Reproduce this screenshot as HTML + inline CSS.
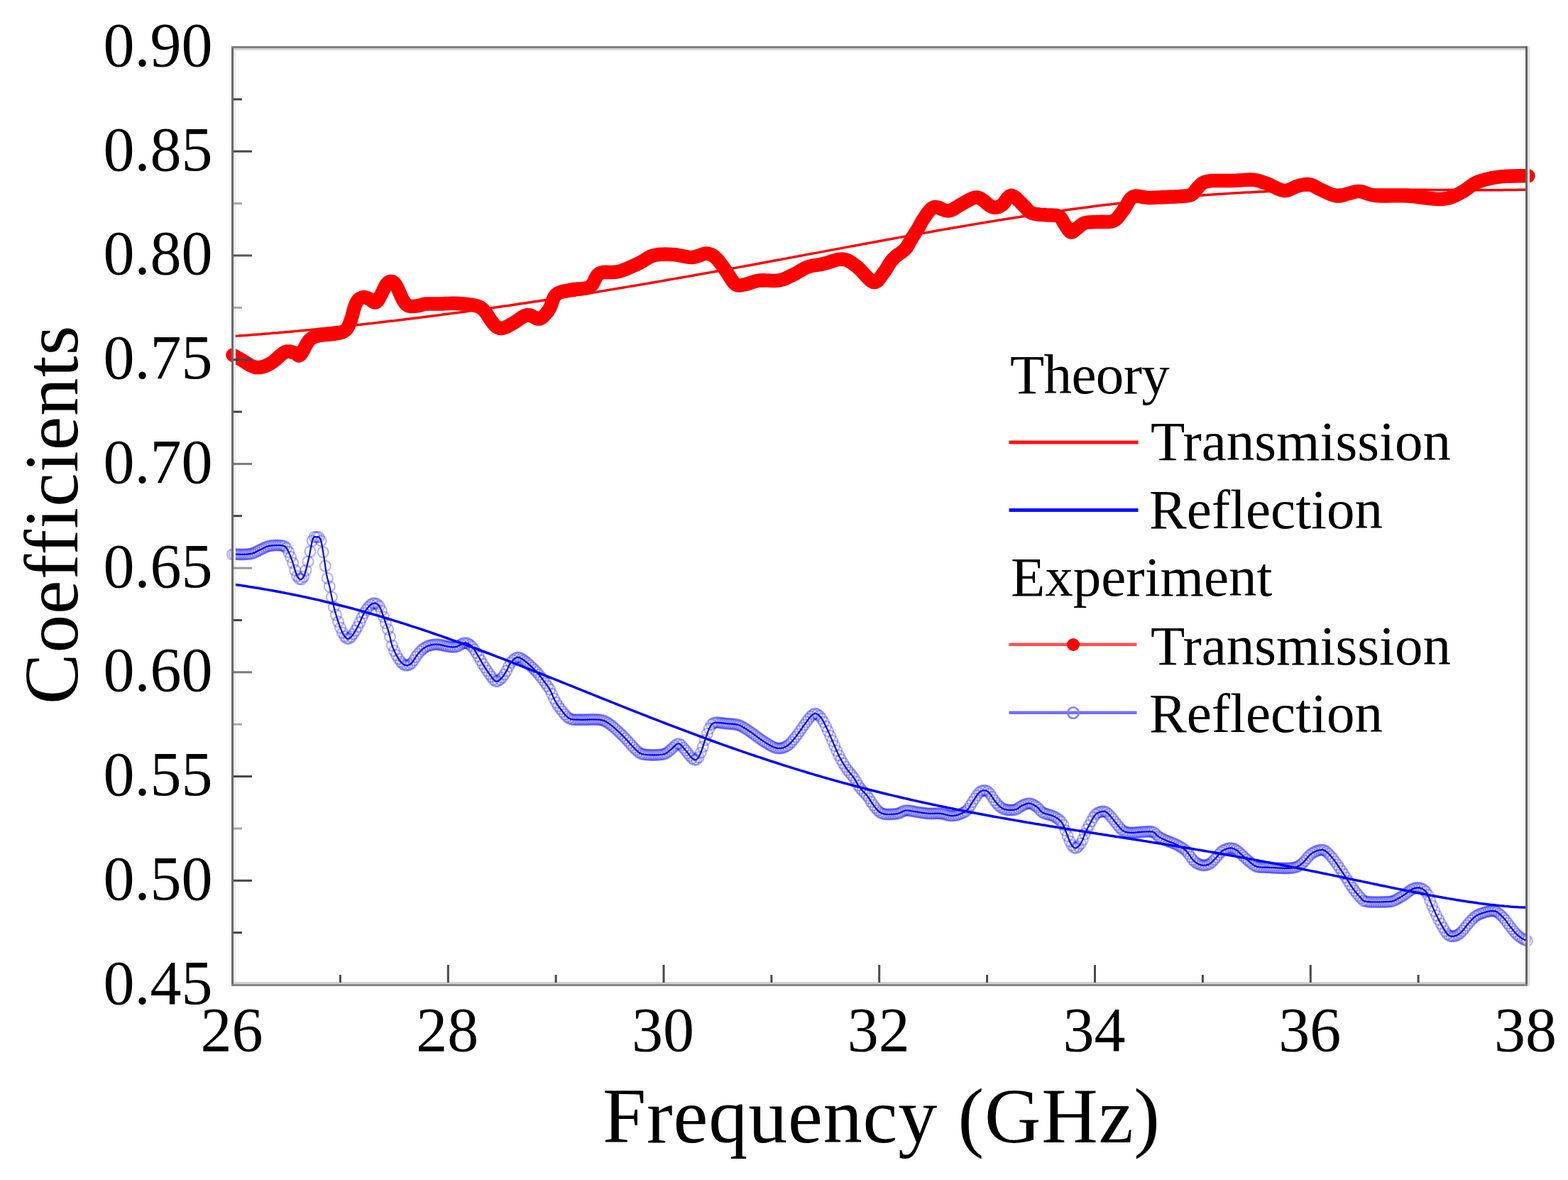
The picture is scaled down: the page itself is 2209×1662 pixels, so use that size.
<!DOCTYPE html><html><head><meta charset="utf-8"><title>Coefficients vs Frequency</title><style>html,body{margin:0;padding:0;background:#fff;}svg{display:block;}</style></head><body><svg width="2209" height="1662" viewBox="0 0 2209 1662">
<rect width="2209" height="1662" fill="#fff"/>
<g fill="none" stroke="#0000ff" stroke-opacity="0.30" stroke-width="2.2"><circle cx="327.5" cy="780.7" r="7.5"/><circle cx="330.5" cy="780.7" r="7.5"/><circle cx="333.6" cy="780.7" r="7.5"/><circle cx="336.6" cy="780.8" r="7.5"/><circle cx="339.7" cy="780.8" r="7.5"/><circle cx="342.7" cy="780.8" r="7.5"/><circle cx="345.7" cy="780.7" r="7.5"/><circle cx="348.8" cy="780.5" r="7.5"/><circle cx="351.8" cy="780.3" r="7.5"/><circle cx="354.9" cy="779.7" r="7.5"/><circle cx="357.9" cy="778.7" r="7.5"/><circle cx="360.9" cy="777.2" r="7.5"/><circle cx="364.0" cy="775.6" r="7.5"/><circle cx="367.0" cy="774.1" r="7.5"/><circle cx="370.1" cy="772.6" r="7.5"/><circle cx="373.1" cy="771.1" r="7.5"/><circle cx="376.1" cy="769.8" r="7.5"/><circle cx="379.2" cy="769.0" r="7.5"/><circle cx="382.2" cy="768.5" r="7.5"/><circle cx="385.3" cy="768.2" r="7.5"/><circle cx="388.3" cy="768.0" r="7.5"/><circle cx="391.3" cy="768.0" r="7.5"/><circle cx="394.4" cy="768.1" r="7.5"/><circle cx="397.4" cy="768.5" r="7.5"/><circle cx="400.5" cy="769.2" r="7.5"/><circle cx="403.5" cy="771.6" r="7.5"/><circle cx="406.5" cy="777.4" r="7.5"/><circle cx="409.6" cy="784.5" r="7.5"/><circle cx="412.6" cy="792.9" r="7.5"/><circle cx="415.7" cy="803.2" r="7.5"/><circle cx="418.7" cy="811.3" r="7.5"/><circle cx="421.7" cy="815.3" r="7.5"/><circle cx="424.8" cy="815.8" r="7.5"/><circle cx="427.8" cy="812.3" r="7.5"/><circle cx="430.9" cy="803.3" r="7.5"/><circle cx="433.9" cy="791.1" r="7.5"/><circle cx="436.9" cy="776.9" r="7.5"/><circle cx="440.0" cy="761.8" r="7.5"/><circle cx="443.0" cy="756.3" r="7.5"/><circle cx="446.1" cy="756.3" r="7.5"/><circle cx="449.1" cy="756.5" r="7.5"/><circle cx="452.1" cy="761.7" r="7.5"/><circle cx="455.2" cy="777.6" r="7.5"/><circle cx="458.2" cy="797.2" r="7.5"/><circle cx="461.3" cy="814.4" r="7.5"/><circle cx="464.3" cy="826.1" r="7.5"/><circle cx="467.3" cy="841.0" r="7.5"/><circle cx="470.4" cy="854.9" r="7.5"/><circle cx="473.4" cy="866.0" r="7.5"/><circle cx="476.5" cy="875.7" r="7.5"/><circle cx="479.5" cy="884.1" r="7.5"/><circle cx="482.5" cy="891.2" r="7.5"/><circle cx="485.6" cy="896.3" r="7.5"/><circle cx="488.6" cy="899.3" r="7.5"/><circle cx="491.7" cy="899.4" r="7.5"/><circle cx="494.7" cy="896.9" r="7.5"/><circle cx="497.7" cy="893.0" r="7.5"/><circle cx="500.8" cy="888.2" r="7.5"/><circle cx="503.8" cy="882.8" r="7.5"/><circle cx="506.9" cy="876.7" r="7.5"/><circle cx="509.9" cy="869.9" r="7.5"/><circle cx="512.9" cy="863.7" r="7.5"/><circle cx="516.0" cy="858.9" r="7.5"/><circle cx="519.0" cy="855.0" r="7.5"/><circle cx="522.1" cy="851.9" r="7.5"/><circle cx="525.1" cy="849.9" r="7.5"/><circle cx="528.1" cy="849.6" r="7.5"/><circle cx="531.2" cy="850.6" r="7.5"/><circle cx="534.2" cy="853.8" r="7.5"/><circle cx="537.3" cy="860.2" r="7.5"/><circle cx="540.3" cy="868.8" r="7.5"/><circle cx="543.3" cy="877.6" r="7.5"/><circle cx="546.4" cy="886.3" r="7.5"/><circle cx="549.4" cy="896.9" r="7.5"/><circle cx="552.5" cy="909.1" r="7.5"/><circle cx="555.5" cy="916.7" r="7.5"/><circle cx="558.5" cy="922.8" r="7.5"/><circle cx="561.6" cy="928.0" r="7.5"/><circle cx="564.6" cy="932.1" r="7.5"/><circle cx="567.7" cy="935.2" r="7.5"/><circle cx="570.7" cy="937.0" r="7.5"/><circle cx="573.7" cy="937.2" r="7.5"/><circle cx="576.8" cy="936.2" r="7.5"/><circle cx="579.8" cy="934.0" r="7.5"/><circle cx="582.9" cy="929.9" r="7.5"/><circle cx="585.9" cy="925.1" r="7.5"/><circle cx="588.9" cy="921.0" r="7.5"/><circle cx="592.0" cy="917.5" r="7.5"/><circle cx="595.0" cy="914.6" r="7.5"/><circle cx="598.1" cy="912.3" r="7.5"/><circle cx="601.1" cy="910.6" r="7.5"/><circle cx="604.1" cy="909.4" r="7.5"/><circle cx="607.2" cy="908.6" r="7.5"/><circle cx="610.2" cy="908.0" r="7.5"/><circle cx="613.3" cy="907.6" r="7.5"/><circle cx="616.3" cy="907.6" r="7.5"/><circle cx="619.3" cy="908.0" r="7.5"/><circle cx="622.4" cy="908.6" r="7.5"/><circle cx="625.4" cy="909.3" r="7.5"/><circle cx="628.5" cy="910.1" r="7.5"/><circle cx="631.5" cy="910.6" r="7.5"/><circle cx="634.5" cy="911.0" r="7.5"/><circle cx="637.6" cy="911.3" r="7.5"/><circle cx="640.6" cy="911.2" r="7.5"/><circle cx="643.7" cy="910.6" r="7.5"/><circle cx="646.7" cy="909.3" r="7.5"/><circle cx="649.7" cy="907.5" r="7.5"/><circle cx="652.8" cy="905.9" r="7.5"/><circle cx="655.8" cy="905.5" r="7.5"/><circle cx="658.9" cy="906.2" r="7.5"/><circle cx="661.9" cy="908.1" r="7.5"/><circle cx="664.9" cy="910.7" r="7.5"/><circle cx="668.0" cy="914.6" r="7.5"/><circle cx="671.0" cy="919.5" r="7.5"/><circle cx="674.1" cy="924.7" r="7.5"/><circle cx="677.1" cy="929.9" r="7.5"/><circle cx="680.1" cy="935.2" r="7.5"/><circle cx="683.2" cy="940.0" r="7.5"/><circle cx="686.2" cy="944.7" r="7.5"/><circle cx="689.3" cy="949.0" r="7.5"/><circle cx="692.3" cy="953.2" r="7.5"/><circle cx="695.3" cy="957.2" r="7.5"/><circle cx="698.4" cy="959.6" r="7.5"/><circle cx="701.4" cy="959.2" r="7.5"/><circle cx="704.5" cy="957.1" r="7.5"/><circle cx="707.5" cy="954.1" r="7.5"/><circle cx="710.5" cy="950.0" r="7.5"/><circle cx="713.6" cy="944.9" r="7.5"/><circle cx="716.6" cy="938.5" r="7.5"/><circle cx="719.7" cy="933.3" r="7.5"/><circle cx="722.7" cy="929.8" r="7.5"/><circle cx="725.7" cy="927.3" r="7.5"/><circle cx="728.8" cy="925.8" r="7.5"/><circle cx="731.8" cy="926.2" r="7.5"/><circle cx="734.9" cy="927.8" r="7.5"/><circle cx="737.9" cy="929.8" r="7.5"/><circle cx="740.9" cy="932.1" r="7.5"/><circle cx="744.0" cy="934.7" r="7.5"/><circle cx="747.0" cy="937.5" r="7.5"/><circle cx="750.1" cy="940.3" r="7.5"/><circle cx="753.1" cy="943.3" r="7.5"/><circle cx="756.1" cy="946.5" r="7.5"/><circle cx="759.2" cy="950.1" r="7.5"/><circle cx="762.2" cy="953.9" r="7.5"/><circle cx="765.3" cy="958.0" r="7.5"/><circle cx="768.3" cy="962.1" r="7.5"/><circle cx="771.3" cy="966.3" r="7.5"/><circle cx="774.4" cy="970.9" r="7.5"/><circle cx="777.4" cy="977.2" r="7.5"/><circle cx="780.5" cy="984.1" r="7.5"/><circle cx="783.5" cy="989.6" r="7.5"/><circle cx="786.5" cy="994.3" r="7.5"/><circle cx="789.6" cy="998.4" r="7.5"/><circle cx="792.6" cy="1002.4" r="7.5"/><circle cx="795.7" cy="1006.2" r="7.5"/><circle cx="798.7" cy="1009.5" r="7.5"/><circle cx="801.7" cy="1011.7" r="7.5"/><circle cx="804.8" cy="1013.0" r="7.5"/><circle cx="807.8" cy="1013.5" r="7.5"/><circle cx="810.9" cy="1013.6" r="7.5"/><circle cx="813.9" cy="1013.7" r="7.5"/><circle cx="816.9" cy="1013.7" r="7.5"/><circle cx="820.0" cy="1013.7" r="7.5"/><circle cx="823.0" cy="1013.7" r="7.5"/><circle cx="826.1" cy="1013.6" r="7.5"/><circle cx="829.1" cy="1013.5" r="7.5"/><circle cx="832.1" cy="1013.4" r="7.5"/><circle cx="835.2" cy="1013.4" r="7.5"/><circle cx="838.2" cy="1013.4" r="7.5"/><circle cx="841.3" cy="1013.5" r="7.5"/><circle cx="844.3" cy="1013.7" r="7.5"/><circle cx="847.3" cy="1014.2" r="7.5"/><circle cx="850.4" cy="1015.0" r="7.5"/><circle cx="853.4" cy="1016.3" r="7.5"/><circle cx="856.5" cy="1018.2" r="7.5"/><circle cx="859.5" cy="1020.3" r="7.5"/><circle cx="862.5" cy="1022.6" r="7.5"/><circle cx="865.6" cy="1025.2" r="7.5"/><circle cx="868.6" cy="1028.0" r="7.5"/><circle cx="871.7" cy="1030.8" r="7.5"/><circle cx="874.7" cy="1033.7" r="7.5"/><circle cx="877.7" cy="1036.7" r="7.5"/><circle cx="880.8" cy="1039.8" r="7.5"/><circle cx="883.8" cy="1043.0" r="7.5"/><circle cx="886.9" cy="1046.4" r="7.5"/><circle cx="889.9" cy="1049.9" r="7.5"/><circle cx="892.9" cy="1053.2" r="7.5"/><circle cx="896.0" cy="1056.2" r="7.5"/><circle cx="899.0" cy="1059.0" r="7.5"/><circle cx="902.1" cy="1061.1" r="7.5"/><circle cx="905.1" cy="1062.1" r="7.5"/><circle cx="908.1" cy="1062.7" r="7.5"/><circle cx="911.2" cy="1063.0" r="7.5"/><circle cx="914.2" cy="1063.1" r="7.5"/><circle cx="917.3" cy="1063.3" r="7.5"/><circle cx="920.3" cy="1063.3" r="7.5"/><circle cx="923.3" cy="1063.3" r="7.5"/><circle cx="926.4" cy="1063.1" r="7.5"/><circle cx="929.4" cy="1063.0" r="7.5"/><circle cx="932.5" cy="1062.7" r="7.5"/><circle cx="935.5" cy="1062.1" r="7.5"/><circle cx="938.5" cy="1060.9" r="7.5"/><circle cx="941.6" cy="1058.6" r="7.5"/><circle cx="944.6" cy="1056.1" r="7.5"/><circle cx="947.7" cy="1053.4" r="7.5"/><circle cx="950.7" cy="1050.4" r="7.5"/><circle cx="953.7" cy="1048.0" r="7.5"/><circle cx="956.8" cy="1047.6" r="7.5"/><circle cx="959.8" cy="1049.7" r="7.5"/><circle cx="962.9" cy="1053.3" r="7.5"/><circle cx="965.9" cy="1056.9" r="7.5"/><circle cx="968.9" cy="1060.7" r="7.5"/><circle cx="972.0" cy="1064.5" r="7.5"/><circle cx="975.0" cy="1067.9" r="7.5"/><circle cx="978.1" cy="1070.1" r="7.5"/><circle cx="981.1" cy="1069.8" r="7.5"/><circle cx="984.1" cy="1066.6" r="7.5"/><circle cx="987.2" cy="1060.1" r="7.5"/><circle cx="990.2" cy="1051.8" r="7.5"/><circle cx="993.3" cy="1042.3" r="7.5"/><circle cx="996.3" cy="1033.5" r="7.5"/><circle cx="999.3" cy="1026.1" r="7.5"/><circle cx="1002.4" cy="1020.5" r="7.5"/><circle cx="1005.4" cy="1018.3" r="7.5"/><circle cx="1008.5" cy="1017.7" r="7.5"/><circle cx="1011.5" cy="1017.7" r="7.5"/><circle cx="1014.5" cy="1018.0" r="7.5"/><circle cx="1017.6" cy="1018.4" r="7.5"/><circle cx="1020.6" cy="1018.8" r="7.5"/><circle cx="1023.7" cy="1019.1" r="7.5"/><circle cx="1026.7" cy="1019.3" r="7.5"/><circle cx="1029.7" cy="1019.5" r="7.5"/><circle cx="1032.8" cy="1019.8" r="7.5"/><circle cx="1035.8" cy="1020.2" r="7.5"/><circle cx="1038.9" cy="1020.8" r="7.5"/><circle cx="1041.9" cy="1021.7" r="7.5"/><circle cx="1044.9" cy="1023.1" r="7.5"/><circle cx="1048.0" cy="1024.8" r="7.5"/><circle cx="1051.0" cy="1026.7" r="7.5"/><circle cx="1054.1" cy="1028.7" r="7.5"/><circle cx="1057.1" cy="1030.8" r="7.5"/><circle cx="1060.1" cy="1032.9" r="7.5"/><circle cx="1063.2" cy="1035.2" r="7.5"/><circle cx="1066.2" cy="1037.5" r="7.5"/><circle cx="1069.3" cy="1039.7" r="7.5"/><circle cx="1072.3" cy="1041.8" r="7.5"/><circle cx="1075.3" cy="1043.9" r="7.5"/><circle cx="1078.4" cy="1045.8" r="7.5"/><circle cx="1081.4" cy="1047.7" r="7.5"/><circle cx="1084.5" cy="1049.5" r="7.5"/><circle cx="1087.5" cy="1051.2" r="7.5"/><circle cx="1090.5" cy="1052.5" r="7.5"/><circle cx="1093.6" cy="1053.5" r="7.5"/><circle cx="1096.6" cy="1053.9" r="7.5"/><circle cx="1099.7" cy="1053.9" r="7.5"/><circle cx="1102.7" cy="1053.3" r="7.5"/><circle cx="1105.7" cy="1052.2" r="7.5"/><circle cx="1108.8" cy="1050.6" r="7.5"/><circle cx="1111.8" cy="1048.3" r="7.5"/><circle cx="1114.9" cy="1045.3" r="7.5"/><circle cx="1117.9" cy="1041.7" r="7.5"/><circle cx="1120.9" cy="1037.9" r="7.5"/><circle cx="1124.0" cy="1033.9" r="7.5"/><circle cx="1127.0" cy="1029.5" r="7.5"/><circle cx="1130.1" cy="1025.1" r="7.5"/><circle cx="1133.1" cy="1020.8" r="7.5"/><circle cx="1136.1" cy="1016.6" r="7.5"/><circle cx="1139.2" cy="1012.6" r="7.5"/><circle cx="1142.2" cy="1009.0" r="7.5"/><circle cx="1145.3" cy="1006.3" r="7.5"/><circle cx="1148.3" cy="1004.9" r="7.5"/><circle cx="1151.3" cy="1005.8" r="7.5"/><circle cx="1154.4" cy="1008.3" r="7.5"/><circle cx="1157.4" cy="1012.0" r="7.5"/><circle cx="1160.5" cy="1017.0" r="7.5"/><circle cx="1163.5" cy="1023.1" r="7.5"/><circle cx="1166.5" cy="1029.6" r="7.5"/><circle cx="1169.6" cy="1036.5" r="7.5"/><circle cx="1172.6" cy="1043.4" r="7.5"/><circle cx="1175.7" cy="1050.3" r="7.5"/><circle cx="1178.7" cy="1057.3" r="7.5"/><circle cx="1181.7" cy="1063.9" r="7.5"/><circle cx="1184.8" cy="1069.9" r="7.5"/><circle cx="1187.8" cy="1075.2" r="7.5"/><circle cx="1190.9" cy="1080.0" r="7.5"/><circle cx="1193.9" cy="1084.4" r="7.5"/><circle cx="1196.9" cy="1088.2" r="7.5"/><circle cx="1200.0" cy="1091.7" r="7.5"/><circle cx="1203.0" cy="1095.7" r="7.5"/><circle cx="1206.1" cy="1100.8" r="7.5"/><circle cx="1209.1" cy="1106.2" r="7.5"/><circle cx="1212.1" cy="1110.4" r="7.5"/><circle cx="1215.2" cy="1113.8" r="7.5"/><circle cx="1218.2" cy="1116.9" r="7.5"/><circle cx="1221.3" cy="1120.3" r="7.5"/><circle cx="1224.3" cy="1124.5" r="7.5"/><circle cx="1227.3" cy="1129.3" r="7.5"/><circle cx="1230.4" cy="1133.9" r="7.5"/><circle cx="1233.4" cy="1137.8" r="7.5"/><circle cx="1236.5" cy="1141.4" r="7.5"/><circle cx="1239.5" cy="1144.0" r="7.5"/><circle cx="1242.5" cy="1145.6" r="7.5"/><circle cx="1245.6" cy="1146.5" r="7.5"/><circle cx="1248.6" cy="1146.9" r="7.5"/><circle cx="1251.7" cy="1147.0" r="7.5"/><circle cx="1254.7" cy="1146.9" r="7.5"/><circle cx="1257.7" cy="1146.7" r="7.5"/><circle cx="1260.8" cy="1146.5" r="7.5"/><circle cx="1263.8" cy="1146.0" r="7.5"/><circle cx="1266.9" cy="1145.3" r="7.5"/><circle cx="1269.9" cy="1143.9" r="7.5"/><circle cx="1272.9" cy="1142.3" r="7.5"/><circle cx="1276.0" cy="1141.5" r="7.5"/><circle cx="1279.0" cy="1141.5" r="7.5"/><circle cx="1282.1" cy="1141.9" r="7.5"/><circle cx="1285.1" cy="1142.4" r="7.5"/><circle cx="1288.1" cy="1143.0" r="7.5"/><circle cx="1291.2" cy="1143.5" r="7.5"/><circle cx="1294.2" cy="1144.0" r="7.5"/><circle cx="1297.3" cy="1144.4" r="7.5"/><circle cx="1300.3" cy="1144.9" r="7.5"/><circle cx="1303.3" cy="1145.3" r="7.5"/><circle cx="1306.4" cy="1145.6" r="7.5"/><circle cx="1309.4" cy="1145.8" r="7.5"/><circle cx="1312.5" cy="1145.9" r="7.5"/><circle cx="1315.5" cy="1145.8" r="7.5"/><circle cx="1318.5" cy="1145.7" r="7.5"/><circle cx="1321.6" cy="1145.6" r="7.5"/><circle cx="1324.6" cy="1145.8" r="7.5"/><circle cx="1327.7" cy="1146.2" r="7.5"/><circle cx="1330.7" cy="1147.0" r="7.5"/><circle cx="1333.7" cy="1147.8" r="7.5"/><circle cx="1336.8" cy="1148.5" r="7.5"/><circle cx="1339.8" cy="1149.0" r="7.5"/><circle cx="1342.9" cy="1149.0" r="7.5"/><circle cx="1345.9" cy="1148.5" r="7.5"/><circle cx="1348.9" cy="1147.8" r="7.5"/><circle cx="1352.0" cy="1146.7" r="7.5"/><circle cx="1355.0" cy="1145.5" r="7.5"/><circle cx="1358.1" cy="1144.1" r="7.5"/><circle cx="1361.1" cy="1142.1" r="7.5"/><circle cx="1364.1" cy="1139.1" r="7.5"/><circle cx="1367.2" cy="1134.3" r="7.5"/><circle cx="1370.2" cy="1129.5" r="7.5"/><circle cx="1373.3" cy="1124.8" r="7.5"/><circle cx="1376.3" cy="1120.3" r="7.5"/><circle cx="1379.3" cy="1116.5" r="7.5"/><circle cx="1382.4" cy="1114.2" r="7.5"/><circle cx="1385.4" cy="1113.3" r="7.5"/><circle cx="1388.5" cy="1113.4" r="7.5"/><circle cx="1391.5" cy="1114.8" r="7.5"/><circle cx="1394.5" cy="1117.9" r="7.5"/><circle cx="1397.6" cy="1122.3" r="7.5"/><circle cx="1400.6" cy="1126.9" r="7.5"/><circle cx="1403.7" cy="1130.8" r="7.5"/><circle cx="1406.7" cy="1134.3" r="7.5"/><circle cx="1409.7" cy="1136.9" r="7.5"/><circle cx="1412.8" cy="1138.8" r="7.5"/><circle cx="1415.8" cy="1140.0" r="7.5"/><circle cx="1418.9" cy="1140.6" r="7.5"/><circle cx="1421.9" cy="1140.9" r="7.5"/><circle cx="1424.9" cy="1140.9" r="7.5"/><circle cx="1428.0" cy="1140.7" r="7.5"/><circle cx="1431.0" cy="1140.2" r="7.5"/><circle cx="1434.1" cy="1138.7" r="7.5"/><circle cx="1437.1" cy="1136.4" r="7.5"/><circle cx="1440.1" cy="1134.6" r="7.5"/><circle cx="1443.2" cy="1133.2" r="7.5"/><circle cx="1446.2" cy="1132.0" r="7.5"/><circle cx="1449.3" cy="1131.5" r="7.5"/><circle cx="1452.3" cy="1131.9" r="7.5"/><circle cx="1455.3" cy="1133.2" r="7.5"/><circle cx="1458.4" cy="1134.9" r="7.5"/><circle cx="1461.4" cy="1137.0" r="7.5"/><circle cx="1464.5" cy="1140.3" r="7.5"/><circle cx="1467.5" cy="1143.5" r="7.5"/><circle cx="1470.5" cy="1145.2" r="7.5"/><circle cx="1473.6" cy="1146.3" r="7.5"/><circle cx="1476.6" cy="1147.1" r="7.5"/><circle cx="1479.7" cy="1148.0" r="7.5"/><circle cx="1482.7" cy="1149.0" r="7.5"/><circle cx="1485.7" cy="1150.3" r="7.5"/><circle cx="1488.8" cy="1152.1" r="7.5"/><circle cx="1491.8" cy="1154.3" r="7.5"/><circle cx="1494.9" cy="1157.3" r="7.5"/><circle cx="1497.9" cy="1162.0" r="7.5"/><circle cx="1500.9" cy="1169.6" r="7.5"/><circle cx="1504.0" cy="1177.3" r="7.5"/><circle cx="1507.0" cy="1184.9" r="7.5"/><circle cx="1510.1" cy="1190.5" r="7.5"/><circle cx="1513.1" cy="1193.8" r="7.5"/><circle cx="1516.1" cy="1194.3" r="7.5"/><circle cx="1519.2" cy="1192.1" r="7.5"/><circle cx="1522.2" cy="1188.4" r="7.5"/><circle cx="1525.3" cy="1182.6" r="7.5"/><circle cx="1528.3" cy="1174.6" r="7.5"/><circle cx="1531.3" cy="1168.2" r="7.5"/><circle cx="1534.4" cy="1162.3" r="7.5"/><circle cx="1537.4" cy="1156.6" r="7.5"/><circle cx="1540.5" cy="1151.2" r="7.5"/><circle cx="1543.5" cy="1147.1" r="7.5"/><circle cx="1546.5" cy="1144.9" r="7.5"/><circle cx="1549.6" cy="1143.7" r="7.5"/><circle cx="1552.6" cy="1142.9" r="7.5"/><circle cx="1555.7" cy="1142.8" r="7.5"/><circle cx="1558.7" cy="1144.0" r="7.5"/><circle cx="1561.7" cy="1146.6" r="7.5"/><circle cx="1564.8" cy="1150.0" r="7.5"/><circle cx="1567.8" cy="1153.5" r="7.5"/><circle cx="1570.9" cy="1157.5" r="7.5"/><circle cx="1573.9" cy="1161.4" r="7.5"/><circle cx="1576.9" cy="1165.0" r="7.5"/><circle cx="1580.0" cy="1168.2" r="7.5"/><circle cx="1583.0" cy="1170.6" r="7.5"/><circle cx="1586.1" cy="1171.8" r="7.5"/><circle cx="1589.1" cy="1172.5" r="7.5"/><circle cx="1592.1" cy="1172.7" r="7.5"/><circle cx="1595.2" cy="1172.8" r="7.5"/><circle cx="1598.2" cy="1172.7" r="7.5"/><circle cx="1601.3" cy="1172.4" r="7.5"/><circle cx="1604.3" cy="1172.1" r="7.5"/><circle cx="1607.3" cy="1171.9" r="7.5"/><circle cx="1610.4" cy="1171.7" r="7.5"/><circle cx="1613.4" cy="1171.5" r="7.5"/><circle cx="1616.5" cy="1171.3" r="7.5"/><circle cx="1619.5" cy="1171.2" r="7.5"/><circle cx="1622.5" cy="1171.4" r="7.5"/><circle cx="1625.6" cy="1172.3" r="7.5"/><circle cx="1628.6" cy="1175.0" r="7.5"/><circle cx="1631.7" cy="1178.0" r="7.5"/><circle cx="1634.7" cy="1179.8" r="7.5"/><circle cx="1637.7" cy="1181.4" r="7.5"/><circle cx="1640.8" cy="1182.8" r="7.5"/><circle cx="1643.8" cy="1184.2" r="7.5"/><circle cx="1646.9" cy="1185.3" r="7.5"/><circle cx="1649.9" cy="1186.4" r="7.5"/><circle cx="1652.9" cy="1187.6" r="7.5"/><circle cx="1656.0" cy="1189.0" r="7.5"/><circle cx="1659.0" cy="1190.5" r="7.5"/><circle cx="1662.1" cy="1192.1" r="7.5"/><circle cx="1665.1" cy="1193.9" r="7.5"/><circle cx="1668.1" cy="1196.0" r="7.5"/><circle cx="1671.2" cy="1198.6" r="7.5"/><circle cx="1674.2" cy="1202.4" r="7.5"/><circle cx="1677.3" cy="1206.8" r="7.5"/><circle cx="1680.3" cy="1210.8" r="7.5"/><circle cx="1683.3" cy="1213.7" r="7.5"/><circle cx="1686.4" cy="1215.8" r="7.5"/><circle cx="1689.4" cy="1217.4" r="7.5"/><circle cx="1692.5" cy="1218.4" r="7.5"/><circle cx="1695.5" cy="1218.8" r="7.5"/><circle cx="1698.5" cy="1218.7" r="7.5"/><circle cx="1701.6" cy="1217.9" r="7.5"/><circle cx="1704.6" cy="1216.5" r="7.5"/><circle cx="1707.7" cy="1214.0" r="7.5"/><circle cx="1710.7" cy="1210.8" r="7.5"/><circle cx="1713.7" cy="1207.5" r="7.5"/><circle cx="1716.8" cy="1203.8" r="7.5"/><circle cx="1719.8" cy="1200.4" r="7.5"/><circle cx="1722.9" cy="1198.0" r="7.5"/><circle cx="1725.9" cy="1196.4" r="7.5"/><circle cx="1728.9" cy="1195.3" r="7.5"/><circle cx="1732.0" cy="1194.6" r="7.5"/><circle cx="1735.0" cy="1194.6" r="7.5"/><circle cx="1738.1" cy="1195.3" r="7.5"/><circle cx="1741.1" cy="1196.8" r="7.5"/><circle cx="1744.1" cy="1199.0" r="7.5"/><circle cx="1747.2" cy="1201.9" r="7.5"/><circle cx="1750.2" cy="1204.7" r="7.5"/><circle cx="1753.3" cy="1207.5" r="7.5"/><circle cx="1756.3" cy="1210.3" r="7.5"/><circle cx="1759.3" cy="1212.9" r="7.5"/><circle cx="1762.4" cy="1215.4" r="7.5"/><circle cx="1765.4" cy="1218.0" r="7.5"/><circle cx="1768.5" cy="1219.8" r="7.5"/><circle cx="1771.5" cy="1220.8" r="7.5"/><circle cx="1774.5" cy="1221.4" r="7.5"/><circle cx="1777.6" cy="1221.5" r="7.5"/><circle cx="1780.6" cy="1221.6" r="7.5"/><circle cx="1783.7" cy="1221.6" r="7.5"/><circle cx="1786.7" cy="1221.7" r="7.5"/><circle cx="1789.7" cy="1221.9" r="7.5"/><circle cx="1792.8" cy="1222.1" r="7.5"/><circle cx="1795.8" cy="1222.3" r="7.5"/><circle cx="1798.9" cy="1222.5" r="7.5"/><circle cx="1801.9" cy="1222.6" r="7.5"/><circle cx="1804.9" cy="1222.7" r="7.5"/><circle cx="1808.0" cy="1222.8" r="7.5"/><circle cx="1811.0" cy="1222.8" r="7.5"/><circle cx="1814.1" cy="1222.8" r="7.5"/><circle cx="1817.1" cy="1222.7" r="7.5"/><circle cx="1820.1" cy="1222.5" r="7.5"/><circle cx="1823.2" cy="1222.0" r="7.5"/><circle cx="1826.2" cy="1221.2" r="7.5"/><circle cx="1829.3" cy="1219.8" r="7.5"/><circle cx="1832.3" cy="1217.9" r="7.5"/><circle cx="1835.3" cy="1215.4" r="7.5"/><circle cx="1838.4" cy="1212.3" r="7.5"/><circle cx="1841.4" cy="1208.6" r="7.5"/><circle cx="1844.5" cy="1205.1" r="7.5"/><circle cx="1847.5" cy="1202.4" r="7.5"/><circle cx="1850.5" cy="1200.5" r="7.5"/><circle cx="1853.6" cy="1199.1" r="7.5"/><circle cx="1856.6" cy="1198.0" r="7.5"/><circle cx="1859.7" cy="1197.2" r="7.5"/><circle cx="1862.7" cy="1196.9" r="7.5"/><circle cx="1865.7" cy="1197.7" r="7.5"/><circle cx="1868.8" cy="1199.7" r="7.5"/><circle cx="1871.8" cy="1202.5" r="7.5"/><circle cx="1874.9" cy="1205.8" r="7.5"/><circle cx="1877.9" cy="1209.4" r="7.5"/><circle cx="1880.9" cy="1213.5" r="7.5"/><circle cx="1884.0" cy="1217.9" r="7.5"/><circle cx="1887.0" cy="1222.3" r="7.5"/><circle cx="1890.1" cy="1226.8" r="7.5"/><circle cx="1893.1" cy="1231.3" r="7.5"/><circle cx="1896.1" cy="1236.0" r="7.5"/><circle cx="1899.2" cy="1240.9" r="7.5"/><circle cx="1902.2" cy="1245.8" r="7.5"/><circle cx="1905.3" cy="1250.3" r="7.5"/><circle cx="1908.3" cy="1254.4" r="7.5"/><circle cx="1911.3" cy="1258.2" r="7.5"/><circle cx="1914.4" cy="1261.7" r="7.5"/><circle cx="1917.4" cy="1265.0" r="7.5"/><circle cx="1920.5" cy="1268.4" r="7.5"/><circle cx="1923.5" cy="1269.5" r="7.5"/><circle cx="1926.5" cy="1270.0" r="7.5"/><circle cx="1929.6" cy="1270.3" r="7.5"/><circle cx="1932.6" cy="1270.4" r="7.5"/><circle cx="1935.7" cy="1270.5" r="7.5"/><circle cx="1938.7" cy="1270.5" r="7.5"/><circle cx="1941.7" cy="1270.5" r="7.5"/><circle cx="1944.8" cy="1270.5" r="7.5"/><circle cx="1947.8" cy="1270.4" r="7.5"/><circle cx="1950.9" cy="1270.3" r="7.5"/><circle cx="1953.9" cy="1270.1" r="7.5"/><circle cx="1956.9" cy="1270.0" r="7.5"/><circle cx="1960.0" cy="1269.6" r="7.5"/><circle cx="1963.0" cy="1269.0" r="7.5"/><circle cx="1966.1" cy="1267.5" r="7.5"/><circle cx="1969.1" cy="1265.8" r="7.5"/><circle cx="1972.1" cy="1264.2" r="7.5"/><circle cx="1975.2" cy="1262.3" r="7.5"/><circle cx="1978.2" cy="1260.3" r="7.5"/><circle cx="1981.3" cy="1258.2" r="7.5"/><circle cx="1984.3" cy="1255.9" r="7.5"/><circle cx="1987.3" cy="1253.6" r="7.5"/><circle cx="1990.4" cy="1251.9" r="7.5"/><circle cx="1993.4" cy="1250.9" r="7.5"/><circle cx="1996.5" cy="1250.4" r="7.5"/><circle cx="1999.5" cy="1250.5" r="7.5"/><circle cx="2002.5" cy="1251.3" r="7.5"/><circle cx="2005.6" cy="1253.0" r="7.5"/><circle cx="2008.6" cy="1255.7" r="7.5"/><circle cx="2011.7" cy="1260.4" r="7.5"/><circle cx="2014.7" cy="1268.6" r="7.5"/><circle cx="2017.7" cy="1275.9" r="7.5"/><circle cx="2020.8" cy="1283.0" r="7.5"/><circle cx="2023.8" cy="1289.5" r="7.5"/><circle cx="2026.9" cy="1295.4" r="7.5"/><circle cx="2029.9" cy="1301.0" r="7.5"/><circle cx="2032.9" cy="1306.3" r="7.5"/><circle cx="2036.0" cy="1311.5" r="7.5"/><circle cx="2039.0" cy="1315.7" r="7.5"/><circle cx="2042.1" cy="1318.1" r="7.5"/><circle cx="2045.1" cy="1318.7" r="7.5"/><circle cx="2048.1" cy="1318.6" r="7.5"/><circle cx="2051.2" cy="1317.9" r="7.5"/><circle cx="2054.2" cy="1316.4" r="7.5"/><circle cx="2057.3" cy="1314.2" r="7.5"/><circle cx="2060.3" cy="1311.2" r="7.5"/><circle cx="2063.3" cy="1307.4" r="7.5"/><circle cx="2066.4" cy="1303.5" r="7.5"/><circle cx="2069.4" cy="1299.9" r="7.5"/><circle cx="2072.5" cy="1296.4" r="7.5"/><circle cx="2075.5" cy="1293.3" r="7.5"/><circle cx="2078.5" cy="1290.7" r="7.5"/><circle cx="2081.6" cy="1288.8" r="7.5"/><circle cx="2084.6" cy="1287.4" r="7.5"/><circle cx="2087.7" cy="1286.3" r="7.5"/><circle cx="2090.7" cy="1285.3" r="7.5"/><circle cx="2093.7" cy="1284.4" r="7.5"/><circle cx="2096.8" cy="1283.7" r="7.5"/><circle cx="2099.8" cy="1283.2" r="7.5"/><circle cx="2102.9" cy="1283.1" r="7.5"/><circle cx="2105.9" cy="1283.3" r="7.5"/><circle cx="2108.9" cy="1284.5" r="7.5"/><circle cx="2112.0" cy="1286.8" r="7.5"/><circle cx="2115.0" cy="1289.5" r="7.5"/><circle cx="2118.1" cy="1292.7" r="7.5"/><circle cx="2121.1" cy="1296.2" r="7.5"/><circle cx="2124.1" cy="1300.4" r="7.5"/><circle cx="2127.2" cy="1304.5" r="7.5"/><circle cx="2130.2" cy="1308.4" r="7.5"/><circle cx="2133.3" cy="1312.1" r="7.5"/><circle cx="2136.3" cy="1315.5" r="7.5"/><circle cx="2139.3" cy="1318.2" r="7.5"/><circle cx="2142.4" cy="1320.5" r="7.5"/><circle cx="2145.4" cy="1322.3" r="7.5"/><circle cx="2148.5" cy="1323.9" r="7.5"/><circle cx="2151.5" cy="1325.0" r="7.5"/></g>
<path d="M327.6 780.7 L331.2 780.7 L336.4 780.8 L342.3 780.8 L348.0 780.6 L352.6 780.2 L355.9 779.4 L358.6 778.4 L360.9 777.2 L363.1 776.0 L365.6 774.8 L368.3 773.5 L370.9 772.2 L373.7 770.8 L376.6 769.6 L379.8 768.8 L383.6 768.3 L387.8 768.0 L392.2 768.0 L396.1 768.2 L399.3 768.8 L401.4 769.6 L402.8 770.7 L403.8 772.1 L404.7 773.8 L405.8 775.9 L407.1 778.6 L408.5 781.7 L409.8 785.2 L411.2 788.7 L412.4 792.2 L413.6 795.8 L414.6 799.6 L415.7 803.3 L416.7 806.7 L417.8 809.5 L418.9 811.7 L420.0 813.4 L421.0 814.8 L422.1 815.6 L423.2 816.0 L424.3 816.0 L425.3 815.6 L426.4 814.7 L427.4 813.1 L428.6 810.6 L429.9 806.9 L431.2 802.1 L432.6 796.6 L433.9 791.0 L435.2 785.6 L436.4 780.1 L437.4 774.2 L438.5 768.4 L439.5 763.4 L440.6 759.6 L441.7 757.4 L442.8 756.3 L443.8 756.1 L444.9 756.2 L446.0 756.3 L447.1 756.2 L448.3 756.3 L449.4 756.6 L450.5 757.7 L451.5 759.6 L452.4 762.7 L453.3 766.6 L454.1 771.3 L455.0 776.2 L455.8 781.3 L456.7 786.7 L457.6 792.6 L458.4 798.7 L459.3 804.4 L460.2 809.5 L461.1 813.7 L462.0 817.3 L462.9 820.5 L463.7 823.7 L464.5 826.9 L465.2 830.3 L465.9 833.6 L466.5 836.9 L467.2 840.1 L467.8 843.2 L468.4 846.1 L469.0 848.8 L469.6 851.4 L470.2 854.2 L471.0 857.3 L471.9 860.8 L473.0 864.5 L474.1 868.3 L475.3 872.2 L476.5 875.8 L477.7 879.3 L479.0 882.9 L480.4 886.3 L481.7 889.4 L483.0 892.1 L484.3 894.4 L485.6 896.3 L486.9 897.9 L488.2 899.1 L489.5 899.7 L490.8 899.8 L492.0 899.3 L493.2 898.4 L494.6 897.1 L496.0 895.4 L497.6 893.3 L499.3 890.6 L501.1 887.7 L502.9 884.5 L504.7 881.2 L506.4 877.7 L508.2 873.8 L509.9 869.8 L511.7 866.1 L513.4 862.8 L515.2 860.0 L517.0 857.5 L518.8 855.3 L520.5 853.4 L522.1 851.9 L523.5 850.8 L524.9 850.0 L526.1 849.6 L527.3 849.5 L528.6 849.7 L529.9 850.1 L531.1 850.6 L532.4 851.5 L533.7 853.0 L535.1 855.2 L536.6 858.4 L538.2 862.6 L539.8 867.1 L541.3 871.7 L542.7 875.8 L543.9 879.3 L545.1 882.5 L546.2 885.6 L547.2 888.8 L548.2 892.1 L549.1 895.7 L550.0 899.5 L550.8 903.3 L551.8 907.1 L553.0 910.8 L554.5 914.5 L556.2 918.3 L558.0 921.9 L559.9 925.3 L561.7 928.2 L563.4 930.7 L565.2 932.8 L566.9 934.6 L568.7 936.0 L570.4 936.9 L572.2 937.3 L573.9 937.2 L575.7 936.7 L577.4 935.9 L579.1 934.7 L580.7 933.1 L582.2 930.9 L583.7 928.5 L585.2 926.1 L586.7 923.9 L588.2 922.0 L589.7 920.1 L591.2 918.3 L592.7 916.7 L594.3 915.2 L595.9 913.9 L597.5 912.6 L599.2 911.6 L601.0 910.6 L603.0 909.8 L605.3 909.1 L607.7 908.4 L610.3 907.9 L613.1 907.6 L616.0 907.6 L619.2 907.9 L622.6 908.6 L626.1 909.5 L629.4 910.3 L632.4 910.8 L634.9 911.1 L637.1 911.3 L639.1 911.3 L641.1 911.2 L643.2 910.8 L645.6 909.9 L648.0 908.5 L650.5 907.0 L652.9 905.9 L655.2 905.4 L657.3 905.7 L659.3 906.4 L661.3 907.6 L663.2 909.1 L665.0 910.8 L666.8 912.9 L668.6 915.5 L670.3 918.3 L672.0 921.2 L673.6 923.9 L675.2 926.5 L676.7 929.1 L678.1 931.7 L679.6 934.3 L681.2 936.9 L682.9 939.6 L684.6 942.3 L686.4 945.0 L688.2 947.6 L690.0 950.0 L691.7 952.4 L693.4 954.8 L695.2 957.1 L696.9 958.8 L698.6 959.7 L700.4 959.7 L702.2 958.8 L704.0 957.5 L705.7 955.9 L707.3 954.3 L708.8 952.6 L710.1 950.7 L711.4 948.7 L712.6 946.6 L713.8 944.5 L714.9 942.4 L715.9 940.1 L716.9 937.8 L718.0 935.7 L719.3 933.7 L720.9 931.8 L722.6 929.9 L724.4 928.2 L726.3 926.9 L728.0 926.0 L729.5 925.7 L731.0 925.9 L732.4 926.4 L733.9 927.2 L735.6 928.2 L737.6 929.5 L739.7 931.1 L741.9 932.9 L744.2 934.9 L746.4 936.9 L748.6 938.9 L750.8 940.9 L752.9 943.1 L755.1 945.4 L757.3 947.8 L759.5 950.5 L761.9 953.4 L764.1 956.5 L766.3 959.4 L768.2 962.0 L769.8 964.2 L771.2 966.1 L772.5 967.9 L773.7 969.8 L775.0 972.0 L776.3 974.6 L777.6 977.5 L778.9 980.6 L780.2 983.6 L781.7 986.5 L783.3 989.2 L784.9 991.9 L786.7 994.4 L788.5 997.0 L790.4 999.5 L792.4 1002.1 L794.5 1004.8 L796.7 1007.5 L799.0 1009.7 L801.3 1011.5 L803.5 1012.6 L805.5 1013.2 L807.7 1013.4 L810.6 1013.6 L814.3 1013.7 L819.5 1013.8 L826.0 1013.6 L833.0 1013.4 L839.4 1013.4 L844.7 1013.7 L848.4 1014.3 L851.2 1015.2 L853.4 1016.3 L855.5 1017.6 L857.8 1019.1 L860.4 1020.9 L863.1 1023.0 L865.7 1025.3 L868.3 1027.7 L870.8 1030.0 L873.2 1032.3 L875.6 1034.6 L878.0 1036.9 L880.4 1039.4 L882.8 1041.9 L885.4 1044.7 L888.0 1047.7 L890.7 1050.8 L893.3 1053.6 L895.8 1056.0 L897.9 1057.9 L899.5 1059.5 L901.3 1060.7 L903.5 1061.7 L906.7 1062.5 L911.3 1063.0 L917.2 1063.3 L923.3 1063.3 L929.2 1063.0 L933.8 1062.5 L937.0 1061.7 L939.3 1060.5 L941.1 1059.1 L942.8 1057.5 L944.7 1056.0 L946.9 1054.1 L949.2 1051.9 L951.4 1049.7 L953.6 1048.0 L955.6 1047.3 L957.4 1047.7 L959.1 1048.9 L960.7 1050.7 L962.4 1052.8 L964.3 1055.0 L966.6 1057.6 L969.1 1060.8 L971.7 1064.1 L974.1 1067.0 L976.2 1069.0 L977.9 1070.0 L979.2 1070.4 L980.4 1070.2 L981.5 1069.5 L982.7 1068.5 L983.9 1067.0 L985.0 1065.0 L986.2 1062.5 L987.3 1059.8 L988.4 1057.0 L989.5 1053.9 L990.7 1050.4 L991.8 1046.7 L993.0 1043.1 L994.1 1039.8 L995.2 1036.7 L996.3 1033.6 L997.3 1030.7 L998.4 1028.0 L999.6 1025.6 L1000.7 1023.5 L1001.6 1021.7 L1002.7 1020.1 L1004.1 1018.9 L1006.1 1018.0 L1008.9 1017.6 L1012.3 1017.8 L1016.0 1018.2 L1019.9 1018.7 L1023.5 1019.1 L1027.0 1019.4 L1030.5 1019.6 L1034.0 1019.9 L1037.5 1020.4 L1040.8 1021.3 L1044.0 1022.6 L1047.0 1024.2 L1049.9 1026.0 L1052.9 1028.0 L1056.0 1030.0 L1059.2 1032.2 L1062.5 1034.6 L1065.8 1037.1 L1069.1 1039.6 L1072.4 1041.9 L1075.7 1044.1 L1079.1 1046.3 L1082.5 1048.4 L1085.7 1050.3 L1088.6 1051.7 L1091.1 1052.7 L1093.3 1053.4 L1095.4 1053.9 L1097.4 1054.0 L1099.5 1053.9 L1101.7 1053.6 L1103.9 1053.0 L1106.0 1052.1 L1108.2 1051.0 L1110.4 1049.5 L1112.5 1047.7 L1114.6 1045.6 L1116.7 1043.2 L1118.9 1040.5 L1121.2 1037.6 L1123.7 1034.2 L1126.5 1030.3 L1129.3 1026.3 L1131.9 1022.4 L1134.3 1019.1 L1136.4 1016.3 L1138.2 1013.8 L1139.9 1011.6 L1141.5 1009.8 L1143.0 1008.2 L1144.4 1006.9 L1145.7 1005.9 L1146.9 1005.2 L1148.2 1004.9 L1149.5 1005.0 L1150.9 1005.6 L1152.5 1006.5 L1154.0 1007.9 L1155.6 1009.6 L1157.1 1011.5 L1158.6 1013.7 L1160.1 1016.3 L1161.6 1019.2 L1163.1 1022.3 L1164.7 1025.6 L1166.4 1029.1 L1168.0 1032.9 L1169.8 1036.9 L1171.6 1041.1 L1173.4 1045.2 L1175.3 1049.5 L1177.2 1054.0 L1179.2 1058.5 L1181.2 1062.9 L1183.2 1066.9 L1185.2 1070.6 L1187.1 1074.0 L1189.1 1077.2 L1191.0 1080.3 L1193.0 1083.2 L1195.0 1085.8 L1197.0 1088.2 L1198.9 1090.5 L1200.9 1092.8 L1202.7 1095.2 L1204.4 1097.9 L1206.0 1100.6 L1207.5 1103.5 L1209.1 1106.2 L1210.9 1108.9 L1212.9 1111.4 L1215.1 1113.7 L1217.4 1116.0 L1219.6 1118.4 L1221.7 1120.8 L1223.6 1123.4 L1225.3 1126.1 L1227.0 1128.8 L1228.7 1131.5 L1230.4 1133.9 L1232.1 1136.2 L1233.8 1138.4 L1235.5 1140.4 L1237.3 1142.2 L1239.1 1143.7 L1240.9 1144.8 L1242.6 1145.7 L1244.5 1146.2 L1246.5 1146.6 L1248.9 1146.9 L1251.8 1147.0 L1255.2 1146.9 L1258.8 1146.7 L1262.2 1146.3 L1265.2 1145.8 L1267.6 1145.0 L1269.6 1144.0 L1271.5 1142.9 L1273.6 1142.0 L1276.0 1141.5 L1278.9 1141.5 L1282.2 1141.9 L1285.6 1142.5 L1289.0 1143.2 L1292.4 1143.7 L1295.6 1144.2 L1298.9 1144.6 L1302.1 1145.1 L1305.4 1145.5 L1308.6 1145.8 L1311.9 1145.9 L1315.2 1145.8 L1318.4 1145.7 L1321.7 1145.6 L1325.0 1145.8 L1328.3 1146.4 L1331.6 1147.2 L1335.0 1148.1 L1338.2 1148.8 L1341.2 1149.1 L1344.1 1148.9 L1346.9 1148.4 L1349.5 1147.6 L1352.0 1146.7 L1354.3 1145.8 L1356.4 1144.9 L1358.2 1144.0 L1359.9 1143.0 L1361.5 1141.8 L1363.0 1140.4 L1364.4 1138.8 L1365.6 1137.0 L1366.8 1135.0 L1368.0 1132.9 L1369.5 1130.6 L1371.3 1127.9 L1373.3 1124.8 L1375.4 1121.6 L1377.4 1118.7 L1379.3 1116.5 L1381.0 1115.0 L1382.6 1114.1 L1384.0 1113.5 L1385.5 1113.3 L1386.9 1113.2 L1388.3 1113.3 L1389.5 1113.7 L1390.8 1114.3 L1392.0 1115.2 L1393.4 1116.5 L1394.8 1118.2 L1396.4 1120.4 L1397.9 1122.8 L1399.5 1125.2 L1401.0 1127.4 L1402.5 1129.3 L1404.0 1131.2 L1405.5 1133.0 L1407.0 1134.6 L1408.6 1136.0 L1410.2 1137.2 L1411.8 1138.3 L1413.4 1139.2 L1415.2 1139.9 L1417.3 1140.4 L1419.8 1140.7 L1422.6 1140.9 L1425.6 1140.9 L1428.4 1140.6 L1430.9 1140.2 L1432.9 1139.4 L1434.6 1138.3 L1436.2 1137.1 L1437.8 1135.8 L1439.6 1134.8 L1441.6 1133.9 L1443.8 1132.9 L1446.0 1132.1 L1448.2 1131.6 L1450.4 1131.5 L1452.6 1132.0 L1454.9 1132.9 L1457.2 1134.2 L1459.3 1135.5 L1461.3 1136.9 L1462.9 1138.3 L1464.2 1139.9 L1465.4 1141.5 L1466.9 1143.1 L1468.9 1144.5 L1471.7 1145.7 L1475.1 1146.7 L1478.7 1147.7 L1482.2 1148.7 L1485.2 1150.0 L1487.8 1151.4 L1490.1 1152.9 L1492.2 1154.6 L1494.2 1156.5 L1496.0 1158.7 L1497.6 1161.3 L1498.9 1164.3 L1500.2 1167.5 L1501.4 1170.8 L1502.6 1173.9 L1503.9 1177.1 L1505.2 1180.5 L1506.5 1183.7 L1507.8 1186.7 L1509.1 1189.1 L1510.4 1191.0 L1511.6 1192.6 L1512.9 1193.7 L1514.2 1194.4 L1515.6 1194.5 L1517.1 1193.9 L1518.7 1192.7 L1520.3 1191.0 L1521.8 1189.0 L1523.2 1186.9 L1524.4 1184.6 L1525.5 1182.1 L1526.5 1179.4 L1527.5 1176.6 L1528.6 1173.9 L1529.8 1171.3 L1531.1 1168.7 L1532.4 1166.0 L1533.8 1163.4 L1535.2 1160.8 L1536.7 1158.1 L1538.2 1155.2 L1539.7 1152.4 L1541.3 1149.8 L1542.8 1147.8 L1544.3 1146.3 L1545.8 1145.2 L1547.4 1144.5 L1548.9 1143.9 L1550.4 1143.5 L1551.9 1143.1 L1553.4 1142.8 L1554.9 1142.7 L1556.4 1142.9 L1558.0 1143.5 L1559.7 1144.7 L1561.5 1146.3 L1563.2 1148.2 L1565.0 1150.3 L1566.7 1152.2 L1568.3 1154.1 L1569.8 1156.1 L1571.2 1158.0 L1572.7 1160.0 L1574.3 1161.9 L1575.9 1163.8 L1577.6 1165.8 L1579.3 1167.6 L1581.1 1169.3 L1583.0 1170.6 L1584.9 1171.5 L1586.9 1172.1 L1589.0 1172.5 L1591.3 1172.7 L1593.8 1172.8 L1596.7 1172.8 L1600.0 1172.5 L1603.5 1172.2 L1606.9 1171.9 L1610.1 1171.7 L1613.2 1171.5 L1616.2 1171.3 L1619.2 1171.2 L1621.9 1171.3 L1624.3 1171.7 L1626.2 1172.6 L1627.7 1173.9 L1628.9 1175.4 L1630.3 1176.9 L1631.9 1178.2 L1633.8 1179.4 L1635.9 1180.5 L1638.0 1181.6 L1640.3 1182.6 L1642.7 1183.7 L1645.2 1184.7 L1647.9 1185.7 L1650.7 1186.7 L1653.5 1187.8 L1656.3 1189.1 L1659.1 1190.5 L1662.1 1192.1 L1665.0 1193.8 L1667.8 1195.7 L1670.4 1197.8 L1672.8 1200.4 L1675.0 1203.4 L1677.1 1206.5 L1679.2 1209.5 L1681.3 1211.9 L1683.5 1213.8 L1685.7 1215.4 L1687.8 1216.7 L1690.0 1217.7 L1692.2 1218.4 L1694.4 1218.8 L1696.6 1218.9 L1698.8 1218.6 L1701.0 1218.1 L1703.0 1217.4 L1704.9 1216.4 L1706.6 1215.0 L1708.2 1213.4 L1709.9 1211.6 L1711.7 1209.8 L1713.6 1207.7 L1715.5 1205.4 L1717.4 1203.0 L1719.5 1200.7 L1721.5 1198.9 L1723.6 1197.5 L1725.9 1196.4 L1728.2 1195.5 L1730.3 1194.9 L1732.4 1194.5 L1734.3 1194.4 L1736.1 1194.7 L1737.7 1195.2 L1739.4 1195.9 L1741.0 1196.7 L1742.5 1197.7 L1744.0 1198.8 L1745.4 1200.2 L1746.9 1201.6 L1748.6 1203.2 L1750.6 1205.0 L1752.7 1207.0 L1755.0 1209.1 L1757.3 1211.1 L1759.5 1213.0 L1761.6 1214.8 L1763.6 1216.5 L1765.7 1218.1 L1767.9 1219.5 L1770.4 1220.6 L1773.2 1221.2 L1776.3 1221.5 L1779.5 1221.6 L1783.0 1221.6 L1786.7 1221.7 L1790.8 1222.0 L1795.3 1222.2 L1799.8 1222.5 L1804.3 1222.7 L1808.4 1222.8 L1812.1 1222.8 L1815.6 1222.8 L1818.8 1222.6 L1821.9 1222.3 L1824.7 1221.7 L1827.2 1220.8 L1829.5 1219.8 L1831.5 1218.5 L1833.5 1216.9 L1835.6 1215.2 L1837.8 1213.0 L1839.9 1210.5 L1842.1 1207.8 L1844.2 1205.3 L1846.4 1203.2 L1848.6 1201.6 L1850.9 1200.3 L1853.1 1199.3 L1855.3 1198.4 L1857.3 1197.8 L1859.2 1197.3 L1860.9 1197.0 L1862.5 1196.8 L1864.2 1197.1 L1866.0 1197.8 L1867.9 1199.0 L1870.0 1200.7 L1872.1 1202.7 L1874.2 1205.0 L1876.3 1207.4 L1878.5 1210.1 L1880.7 1213.2 L1883.0 1216.4 L1885.2 1219.6 L1887.2 1222.6 L1889.1 1225.3 L1890.8 1227.9 L1892.5 1230.3 L1894.1 1232.9 L1895.9 1235.6 L1897.8 1238.5 L1899.7 1241.6 L1901.6 1244.8 L1903.6 1247.9 L1905.6 1250.8 L1907.7 1253.7 L1910.0 1256.5 L1912.2 1259.3 L1914.4 1261.8 L1916.5 1263.9 L1918.0 1265.7 L1919.0 1267.1 L1920.1 1268.3 L1922.0 1269.2 L1925.2 1269.9 L1930.5 1270.3 L1937.6 1270.5 L1945.2 1270.5 L1952.3 1270.2 L1957.8 1269.9 L1961.4 1269.4 L1963.7 1268.8 L1965.3 1268.0 L1966.8 1267.1 L1968.6 1266.1 L1970.8 1265.0 L1973.0 1263.7 L1975.1 1262.3 L1977.3 1260.9 L1979.5 1259.5 L1981.7 1257.9 L1983.9 1256.2 L1986.0 1254.5 L1988.2 1253.0 L1990.4 1251.9 L1992.6 1251.1 L1994.8 1250.6 L1997.0 1250.4 L1999.2 1250.4 L2001.2 1250.8 L2003.1 1251.5 L2005.0 1252.6 L2006.8 1253.9 L2008.5 1255.5 L2010.0 1257.4 L2011.3 1259.5 L2012.3 1261.9 L2013.2 1264.6 L2014.2 1267.4 L2015.4 1270.4 L2016.8 1273.6 L2018.2 1277.1 L2019.8 1280.7 L2021.4 1284.3 L2023.0 1287.8 L2024.7 1291.2 L2026.4 1294.6 L2028.2 1297.9 L2029.9 1301.1 L2031.7 1304.1 L2033.4 1307.1 L2035.1 1310.1 L2036.8 1312.9 L2038.6 1315.3 L2040.4 1317.1 L2042.3 1318.2 L2044.3 1318.7 L2046.2 1318.8 L2048.2 1318.6 L2050.1 1318.2 L2051.9 1317.6 L2053.6 1316.8 L2055.3 1315.7 L2057.0 1314.4 L2058.8 1312.8 L2060.7 1310.8 L2062.6 1308.4 L2064.5 1305.8 L2066.6 1303.2 L2068.6 1300.8 L2070.7 1298.5 L2072.7 1296.1 L2074.8 1293.9 L2077.1 1291.8 L2079.5 1290.0 L2082.2 1288.5 L2085.2 1287.2 L2088.3 1286.1 L2091.3 1285.2 L2093.9 1284.4 L2096.2 1283.8 L2098.2 1283.4 L2100.1 1283.2 L2101.8 1283.1 L2103.4 1283.1 L2104.8 1283.2 L2106.0 1283.3 L2107.1 1283.6 L2108.3 1284.1 L2109.7 1285.0 L2111.4 1286.3 L2113.3 1287.9 L2115.2 1289.7 L2117.2 1291.8 L2119.2 1293.9 L2121.1 1296.2 L2123.0 1298.8 L2124.9 1301.4 L2126.8 1304.0 L2128.7 1306.5 L2130.6 1308.8 L2132.5 1311.2 L2134.4 1313.4 L2136.3 1315.5 L2138.2 1317.3 L2140.2 1318.9 L2142.2 1320.4 L2144.1 1321.6 L2146.0 1322.7 L2147.7 1323.6 L2149.3 1324.3 L2150.8 1324.8 L2152.1 1325.2 L2153.2 1325.4 L2154.0 1325.6" fill="none" stroke="#0000ff" stroke-width="2.2" stroke-linejoin="round"/>
<path d="M327.5 822.8 L331.5 823.4 L335.5 824.0 L339.5 824.6 L343.5 825.2 L347.5 825.8 L351.5 826.4 L355.5 827.0 L359.5 827.7 L363.5 828.3 L367.5 829.0 L371.5 829.7 L375.5 830.4 L379.5 831.1 L383.5 831.8 L387.5 832.5 L391.5 833.3 L395.5 834.0 L399.5 834.8 L403.5 835.6 L407.5 836.4 L411.5 837.2 L415.5 838.0 L419.5 838.8 L423.5 839.6 L427.5 840.5 L431.5 841.3 L435.5 842.2 L439.5 843.1 L443.5 844.0 L447.5 844.9 L451.5 845.8 L455.5 846.8 L459.5 847.7 L463.5 848.7 L467.5 849.7 L471.5 850.7 L475.5 851.7 L479.5 852.7 L483.5 853.7 L487.5 854.7 L491.5 855.8 L495.5 856.8 L499.5 857.9 L503.5 859.0 L507.5 860.1 L511.5 861.2 L515.5 862.3 L519.5 863.5 L523.5 864.6 L527.5 865.8 L531.5 866.9 L535.5 868.1 L539.5 869.3 L543.5 870.5 L547.5 871.7 L551.5 872.9 L555.5 874.2 L559.5 875.4 L563.5 876.7 L567.5 877.9 L571.5 879.2 L575.5 880.5 L579.5 881.8 L583.5 883.1 L587.5 884.4 L591.5 885.7 L595.5 887.0 L599.5 888.4 L603.5 889.7 L607.5 891.1 L611.5 892.5 L615.5 893.9 L619.5 895.2 L623.5 896.6 L627.5 898.0 L631.5 899.5 L635.5 900.9 L639.5 902.3 L643.5 903.7 L647.5 905.2 L651.5 906.6 L655.5 908.1 L659.5 909.6 L663.5 911.0 L667.5 912.5 L671.5 914.0 L675.5 915.5 L679.5 917.0 L683.5 918.5 L687.5 920.0 L691.5 921.5 L695.5 923.1 L699.5 924.6 L703.5 926.1 L707.5 927.7 L711.5 929.2 L715.5 930.7 L719.5 932.3 L723.5 933.9 L727.5 935.4 L731.5 937.0 L735.5 938.5 L739.5 940.1 L743.5 941.7 L747.5 943.3 L751.5 944.9 L755.5 946.4 L759.5 948.0 L763.5 949.6 L767.5 951.2 L771.5 952.8 L775.5 954.4 L779.5 956.0 L783.5 957.6 L787.5 959.2 L791.5 960.8 L795.5 962.4 L799.5 964.0 L803.5 965.6 L807.5 967.2 L811.5 968.8 L815.5 970.4 L819.5 972.1 L823.5 973.7 L827.5 975.3 L831.5 976.9 L835.5 978.5 L839.5 980.1 L843.5 981.7 L847.5 983.3 L851.5 984.9 L855.5 986.5 L859.5 988.1 L863.5 989.7 L867.5 991.3 L871.5 992.9 L875.5 994.5 L879.5 996.1 L883.5 997.7 L887.5 999.3 L891.5 1000.8 L895.5 1002.4 L899.5 1004.0 L903.5 1005.6 L907.5 1007.1 L911.5 1008.7 L915.5 1010.3 L919.5 1011.8 L923.5 1013.4 L927.5 1014.9 L931.5 1016.5 L935.5 1018.0 L939.5 1019.6 L943.5 1021.1 L947.5 1022.6 L951.5 1024.2 L955.5 1025.7 L959.5 1027.2 L963.5 1028.7 L967.5 1030.2 L971.5 1031.7 L975.5 1033.2 L979.5 1034.7 L983.5 1036.2 L987.5 1037.7 L991.5 1039.1 L995.5 1040.6 L999.5 1042.1 L1003.5 1043.5 L1007.5 1045.0 L1011.5 1046.4 L1015.5 1047.8 L1019.5 1049.3 L1023.5 1050.7 L1027.5 1052.1 L1031.5 1053.5 L1035.5 1054.9 L1039.5 1056.3 L1043.5 1057.7 L1047.5 1059.1 L1051.5 1060.4 L1055.5 1061.8 L1059.5 1063.2 L1063.5 1064.5 L1067.5 1065.9 L1071.5 1067.2 L1075.5 1068.5 L1079.5 1069.8 L1083.5 1071.1 L1087.5 1072.5 L1091.5 1073.7 L1095.5 1075.0 L1099.5 1076.3 L1103.5 1077.6 L1107.5 1078.9 L1111.5 1080.1 L1115.5 1081.4 L1119.5 1082.6 L1123.5 1083.8 L1127.5 1085.1 L1131.5 1086.3 L1135.5 1087.5 L1139.5 1088.7 L1143.5 1089.9 L1147.5 1091.1 L1151.5 1092.2 L1155.5 1093.4 L1159.5 1094.6 L1163.5 1095.7 L1167.5 1096.9 L1171.5 1098.0 L1175.5 1099.1 L1179.5 1100.2 L1183.5 1101.4 L1187.5 1102.5 L1191.5 1103.5 L1195.5 1104.6 L1199.5 1105.7 L1203.5 1106.8 L1207.5 1107.8 L1211.5 1108.9 L1215.5 1109.9 L1219.5 1111.0 L1223.5 1112.0 L1227.5 1113.0 L1231.5 1114.0 L1235.5 1115.0 L1239.5 1116.0 L1243.5 1117.0 L1247.5 1118.0 L1251.5 1119.0 L1255.5 1119.9 L1259.5 1120.9 L1263.5 1121.8 L1267.5 1122.8 L1271.5 1123.7 L1275.5 1124.6 L1279.5 1125.5 L1283.5 1126.5 L1287.5 1127.4 L1291.5 1128.3 L1295.5 1129.1 L1299.5 1130.0 L1303.5 1130.9 L1307.5 1131.8 L1311.5 1132.6 L1315.5 1133.5 L1319.5 1134.3 L1323.5 1135.2 L1327.5 1136.0 L1331.5 1136.8 L1335.5 1137.7 L1339.5 1138.5 L1343.5 1139.3 L1347.5 1140.1 L1351.5 1140.9 L1355.5 1141.7 L1359.5 1142.4 L1363.5 1143.2 L1367.5 1144.0 L1371.5 1144.8 L1375.5 1145.5 L1379.5 1146.3 L1383.5 1147.0 L1387.5 1147.8 L1391.5 1148.5 L1395.5 1149.2 L1399.5 1150.0 L1403.5 1150.7 L1407.5 1151.4 L1411.5 1152.1 L1415.5 1152.8 L1419.5 1153.5 L1423.5 1154.2 L1427.5 1154.9 L1431.5 1155.6 L1435.5 1156.3 L1439.5 1157.0 L1443.5 1157.7 L1447.5 1158.4 L1451.5 1159.0 L1455.5 1159.7 L1459.5 1160.4 L1463.5 1161.0 L1467.5 1161.7 L1471.5 1162.3 L1475.5 1163.0 L1479.5 1163.7 L1483.5 1164.3 L1487.5 1164.9 L1491.5 1165.6 L1495.5 1166.2 L1499.5 1166.9 L1503.5 1167.5 L1507.5 1168.2 L1511.5 1168.8 L1515.5 1169.4 L1519.5 1170.1 L1523.5 1170.7 L1527.5 1171.3 L1531.5 1171.9 L1535.5 1172.6 L1539.5 1173.2 L1543.5 1173.8 L1547.5 1174.5 L1551.5 1175.1 L1555.5 1175.7 L1559.5 1176.3 L1563.5 1177.0 L1567.5 1177.6 L1571.5 1178.2 L1575.5 1178.8 L1579.5 1179.4 L1583.5 1180.1 L1587.5 1180.7 L1591.5 1181.3 L1595.5 1182.0 L1599.5 1182.6 L1603.5 1183.2 L1607.5 1183.8 L1611.5 1184.5 L1615.5 1185.1 L1619.5 1185.7 L1623.5 1186.4 L1627.5 1187.0 L1631.5 1187.7 L1635.5 1188.3 L1639.5 1188.9 L1643.5 1189.6 L1647.5 1190.2 L1651.5 1190.9 L1655.5 1191.5 L1659.5 1192.2 L1663.5 1192.9 L1667.5 1193.5 L1671.5 1194.2 L1675.5 1194.8 L1679.5 1195.5 L1683.5 1196.2 L1687.5 1196.9 L1691.5 1197.5 L1695.5 1198.2 L1699.5 1198.9 L1703.5 1199.6 L1707.5 1200.3 L1711.5 1201.0 L1715.5 1201.7 L1719.5 1202.4 L1723.5 1203.1 L1727.5 1203.8 L1731.5 1204.5 L1735.5 1205.2 L1739.5 1205.9 L1743.5 1206.6 L1747.5 1207.4 L1751.5 1208.1 L1755.5 1208.8 L1759.5 1209.6 L1763.5 1210.3 L1767.5 1211.1 L1771.5 1211.8 L1775.5 1212.6 L1779.5 1213.3 L1783.5 1214.1 L1787.5 1214.8 L1791.5 1215.6 L1795.5 1216.4 L1799.5 1217.1 L1803.5 1217.9 L1807.5 1218.7 L1811.5 1219.5 L1815.5 1220.3 L1819.5 1221.1 L1823.5 1221.9 L1827.5 1222.6 L1831.5 1223.4 L1835.5 1224.3 L1839.5 1225.1 L1843.5 1225.9 L1847.5 1226.7 L1851.5 1227.5 L1855.5 1228.3 L1859.5 1229.1 L1863.5 1230.0 L1867.5 1230.8 L1871.5 1231.6 L1875.5 1232.4 L1879.5 1233.3 L1883.5 1234.1 L1887.5 1234.9 L1891.5 1235.8 L1895.5 1236.6 L1899.5 1237.4 L1903.5 1238.3 L1907.5 1239.1 L1911.5 1240.0 L1915.5 1240.8 L1919.5 1241.6 L1923.5 1242.5 L1927.5 1243.3 L1931.5 1244.1 L1935.5 1245.0 L1939.5 1245.8 L1943.5 1246.7 L1947.5 1247.5 L1951.5 1248.3 L1955.5 1249.1 L1959.5 1250.0 L1963.5 1250.8 L1967.5 1251.6 L1971.5 1252.4 L1975.5 1253.2 L1979.5 1254.0 L1983.5 1254.8 L1987.5 1255.6 L1991.5 1256.4 L1995.5 1257.2 L1999.5 1258.0 L2003.5 1258.8 L2007.5 1259.5 L2011.5 1260.3 L2015.5 1261.1 L2019.5 1261.8 L2023.5 1262.5 L2027.5 1263.3 L2031.5 1264.0 L2035.5 1264.7 L2039.5 1265.4 L2043.5 1266.1 L2047.5 1266.7 L2051.5 1267.4 L2055.5 1268.0 L2059.5 1268.7 L2063.5 1269.3 L2067.5 1269.9 L2071.5 1270.5 L2075.5 1271.1 L2079.5 1271.6 L2083.5 1272.2 L2087.5 1272.7 L2091.5 1273.2 L2095.5 1273.7 L2099.5 1274.2 L2103.5 1274.6 L2107.5 1275.1 L2111.5 1275.5 L2115.5 1275.8 L2119.5 1276.2 L2123.5 1276.5 L2127.5 1276.9 L2131.5 1277.2 L2135.5 1277.4 L2139.5 1277.7 L2143.5 1277.9 L2147.5 1278.0 L2151.5 1278.2" fill="none" stroke="#0000ff" stroke-width="3.5" stroke-linejoin="round"/>
<path d="M328.0 500.0 L329.5 500.8 L331.5 502.0 L334.0 503.4 L336.9 505.0 L340.0 506.7 L343.6 508.9 L347.7 511.5 L352.0 514.2 L356.4 516.3 L360.7 517.5 L364.8 517.6 L368.8 517.0 L372.9 515.8 L376.9 514.0 L381.0 512.0 L385.2 509.2 L389.5 505.5 L393.8 501.5 L397.8 498.1 L401.5 495.8 L404.7 494.9 L407.7 494.9 L410.3 495.6 L412.8 496.4 L415.0 497.0 L416.9 497.9 L418.4 499.2 L419.7 500.4 L421.2 500.9 L423.0 500.0 L425.2 497.2 L427.6 492.8 L430.1 487.8 L432.8 483.1 L435.4 479.5 L437.9 477.2 L440.4 475.6 L443.0 474.4 L445.8 473.5 L449.0 472.7 L452.8 472.0 L457.0 471.5 L461.4 471.2 L465.6 470.9 L469.4 470.5 L472.7 470.0 L475.6 469.5 L478.4 469.0 L480.8 468.3 L483.0 467.5 L484.8 466.5 L486.3 465.5 L487.6 464.3 L488.8 462.8 L490.0 461.0 L491.2 458.7 L492.4 456.0 L493.4 453.1 L494.5 450.0 L495.5 447.0 L496.5 443.8 L497.3 440.4 L498.2 437.0 L499.1 433.8 L500.0 431.0 L500.9 428.7 L501.8 426.6 L502.8 424.9 L503.8 423.3 L505.0 422.0 L506.4 420.8 L508.0 419.9 L509.7 419.2 L511.4 418.7 L513.0 418.5 L514.6 418.7 L516.2 419.2 L517.8 419.9 L519.4 420.7 L521.0 421.5 L522.7 422.6 L524.4 423.9 L526.1 425.2 L527.9 426.1 L529.5 426.0 L531.1 424.8 L532.6 422.9 L534.1 420.4 L535.5 417.6 L537.0 415.0 L538.4 412.2 L539.9 409.2 L541.3 406.1 L542.7 403.2 L544.0 401.0 L545.3 399.4 L546.5 398.2 L547.6 397.3 L548.8 396.8 L550.0 396.5 L551.2 396.4 L552.4 396.6 L553.6 397.1 L554.8 397.8 L556.0 399.0 L557.2 400.6 L558.4 402.7 L559.6 405.0 L560.8 407.5 L562.0 410.0 L563.2 412.6 L564.3 415.3 L565.5 418.1 L566.7 420.7 L568.0 423.0 L569.4 425.1 L570.8 427.0 L572.3 428.7 L574.0 430.0 L576.0 431.0 L578.5 431.5 L581.4 431.5 L584.4 431.3 L587.4 430.9 L590.0 430.5 L592.1 430.1 L593.9 429.5 L595.6 428.9 L597.5 428.4 L600.0 428.0 L603.1 427.9 L606.7 427.9 L610.6 427.9 L614.7 428.0 L618.8 428.0 L622.9 427.9 L627.1 427.6 L631.4 427.4 L635.9 427.2 L640.7 427.3 L646.0 427.6 L651.9 427.9 L657.8 428.5 L663.3 429.1 L668.0 430.0 L671.6 430.9 L674.4 431.8 L676.8 433.0 L679.0 434.6 L681.5 436.8 L684.2 440.0 L687.0 444.1 L689.8 448.5 L692.5 452.6 L695.0 455.8 L697.3 458.2 L699.3 460.1 L701.4 461.4 L703.5 462.3 L706.0 462.6 L708.8 462.2 L711.8 461.1 L715.0 459.6 L718.4 457.7 L722.0 455.8 L725.9 453.4 L730.1 450.5 L734.4 447.5 L738.6 445.0 L742.6 443.6 L746.3 443.9 L750.0 445.4 L753.5 447.4 L756.8 448.9 L760.0 449.0 L763.1 447.6 L766.0 445.3 L768.8 442.2 L771.4 438.9 L773.8 435.4 L775.8 431.5 L777.4 427.1 L778.9 422.5 L780.8 418.3 L783.3 415.0 L786.6 412.7 L790.3 411.2 L794.5 410.1 L799.0 409.3 L803.7 408.3 L808.9 407.5 L814.8 407.1 L820.7 406.7 L826.3 405.8 L831.0 404.0 L834.4 400.9 L836.7 396.7 L838.8 392.1 L841.2 388.0 L844.5 385.0 L849.0 383.6 L854.3 383.3 L860.0 383.4 L865.9 383.3 L871.6 382.5 L877.4 380.7 L883.4 378.4 L889.4 375.7 L895.2 373.1 L900.4 370.6 L904.9 368.2 L908.8 365.7 L912.5 363.4 L916.3 361.3 L920.7 359.8 L925.7 358.8 L931.1 358.3 L936.7 358.1 L942.4 358.2 L947.9 358.4 L953.4 359.0 L959.1 360.1 L964.6 361.3 L970.0 362.2 L975.0 362.5 L979.6 361.8 L984.0 360.4 L988.1 358.8 L991.9 357.5 L995.4 357.0 L998.6 357.4 L1001.3 358.3 L1003.9 359.7 L1006.4 361.5 L1009.0 363.8 L1011.7 366.6 L1014.4 370.0 L1017.2 373.8 L1019.9 377.7 L1022.6 381.5 L1025.3 385.5 L1028.0 389.9 L1030.8 394.2 L1033.5 397.9 L1036.2 400.5 L1038.8 401.8 L1041.3 402.1 L1043.9 401.8 L1046.7 401.2 L1049.8 400.5 L1053.3 399.7 L1057.1 398.4 L1061.1 397.1 L1065.4 395.8 L1070.0 395.0 L1075.1 394.8 L1080.7 395.0 L1086.5 395.3 L1092.2 395.4 L1097.3 395.0 L1101.8 393.9 L1106.0 392.5 L1109.9 390.7 L1113.7 388.8 L1117.7 386.9 L1121.7 384.8 L1125.7 382.4 L1129.8 380.0 L1133.8 377.8 L1138.0 376.0 L1142.2 374.8 L1146.4 373.9 L1150.7 373.3 L1155.2 372.6 L1160.0 371.7 L1165.2 370.2 L1170.8 368.4 L1176.6 366.5 L1182.1 365.3 L1187.2 365.0 L1191.7 365.9 L1195.7 367.5 L1199.5 369.9 L1203.4 372.7 L1207.5 375.8 L1212.1 380.0 L1217.0 385.3 L1221.9 390.8 L1226.5 395.2 L1230.6 397.5 L1234.0 397.2 L1236.9 395.1 L1239.5 391.8 L1241.9 388.2 L1244.2 385.0 L1246.4 382.1 L1248.5 378.9 L1250.4 375.7 L1252.2 372.7 L1254.0 370.0 L1255.6 367.8 L1257.1 366.0 L1258.5 364.4 L1260.1 362.8 L1262.0 361.0 L1264.4 359.1 L1267.2 357.2 L1270.1 355.2 L1272.9 353.0 L1275.4 350.7 L1277.5 348.1 L1279.3 345.2 L1280.9 342.2 L1282.6 339.2 L1284.3 336.2 L1286.1 333.3 L1287.9 330.5 L1289.7 327.6 L1291.6 324.7 L1293.4 321.7 L1295.2 318.6 L1296.9 315.4 L1298.6 312.2 L1300.5 309.1 L1302.6 306.0 L1304.9 302.7 L1307.4 299.2 L1310.1 295.9 L1313.0 293.2 L1316.2 291.6 L1319.8 291.7 L1323.9 293.1 L1328.1 295.1 L1332.4 296.6 L1336.6 297.0 L1340.7 295.8 L1344.8 293.7 L1348.8 291.1 L1352.9 288.5 L1357.0 286.2 L1361.1 284.0 L1365.1 281.7 L1369.2 279.6 L1373.2 278.2 L1377.3 278.0 L1381.5 279.6 L1385.8 282.7 L1390.0 286.3 L1394.1 289.6 L1397.7 291.6 L1400.9 292.3 L1403.6 292.2 L1406.2 291.5 L1408.7 290.4 L1411.3 288.9 L1413.9 286.4 L1416.5 282.9 L1419.1 279.3 L1421.9 276.4 L1424.8 275.3 L1428.1 276.4 L1431.7 279.2 L1435.3 282.7 L1438.9 286.4 L1442.0 289.5 L1444.5 292.0 L1446.6 294.4 L1448.6 296.6 L1450.8 298.5 L1453.6 300.1 L1457.2 301.2 L1461.3 301.8 L1465.6 302.2 L1470.0 302.5 L1474.0 302.8 L1477.8 303.0 L1481.7 303.1 L1485.4 303.2 L1488.7 303.5 L1491.6 304.5 L1493.9 306.2 L1495.6 308.4 L1497.1 311.0 L1498.5 313.6 L1500.0 316.0 L1501.7 318.5 L1503.4 321.2 L1505.1 323.8 L1506.8 325.8 L1508.5 327.0 L1510.2 327.1 L1511.8 326.3 L1513.4 325.0 L1515.1 323.4 L1517.0 322.0 L1518.9 320.5 L1520.9 318.7 L1523.0 316.9 L1525.4 315.2 L1528.3 314.0 L1531.8 313.3 L1535.8 312.9 L1540.1 312.7 L1544.5 312.6 L1548.7 312.4 L1552.9 312.3 L1557.1 312.5 L1561.4 312.5 L1565.4 312.1 L1569.0 311.0 L1572.1 308.9 L1574.9 306.2 L1577.5 302.9 L1580.0 299.5 L1582.6 296.0 L1585.2 292.1 L1587.7 287.7 L1590.3 283.3 L1593.0 279.6 L1596.2 277.0 L1599.7 276.0 L1603.5 276.2 L1607.6 277.0 L1612.0 277.9 L1616.6 278.4 L1621.7 278.4 L1627.3 278.2 L1633.0 278.0 L1638.6 277.7 L1643.7 277.5 L1648.3 277.3 L1652.6 277.2 L1656.7 277.0 L1660.5 276.8 L1664.0 276.5 L1667.3 276.3 L1670.3 276.1 L1673.1 275.8 L1675.7 275.3 L1678.0 274.5 L1680.0 273.2 L1681.6 271.5 L1683.1 269.7 L1684.5 267.8 L1686.0 266.0 L1687.6 264.3 L1689.1 262.5 L1690.7 260.8 L1692.3 259.3 L1694.0 258.0 L1695.8 257.0 L1697.8 256.3 L1699.8 255.8 L1701.8 255.4 L1704.0 255.0 L1706.1 254.7 L1708.0 254.6 L1710.1 254.6 L1712.7 254.5 L1716.0 254.5 L1720.3 254.5 L1725.4 254.4 L1730.9 254.4 L1736.5 254.4 L1741.7 254.3 L1746.7 254.0 L1751.6 253.6 L1756.4 253.2 L1761.1 253.0 L1765.6 253.2 L1769.7 253.8 L1773.5 254.7 L1777.3 255.9 L1781.1 257.2 L1785.2 258.7 L1789.8 260.6 L1794.7 263.1 L1799.7 265.6 L1804.5 267.5 L1809.1 268.5 L1813.3 268.2 L1817.4 266.8 L1821.2 265.0 L1825.0 263.2 L1828.6 261.9 L1832.1 261.0 L1835.4 260.3 L1838.6 259.7 L1841.8 259.5 L1845.0 259.8 L1848.2 260.7 L1851.2 262.1 L1854.3 263.8 L1857.6 265.7 L1861.2 267.4 L1865.3 269.2 L1869.8 271.3 L1874.4 273.4 L1878.9 275.0 L1883.0 276.0 L1886.6 276.1 L1889.9 275.6 L1893.0 274.7 L1896.1 273.6 L1899.3 272.8 L1902.5 272.0 L1905.5 271.0 L1908.6 270.2 L1911.9 269.6 L1915.6 269.5 L1919.3 270.2 L1923.0 271.5 L1927.1 273.0 L1931.9 274.5 L1938.0 275.5 L1945.6 275.9 L1954.4 275.9 L1963.9 275.8 L1973.8 275.7 L1983.5 276.0 L1993.4 276.9 L2003.9 278.2 L2014.2 279.5 L2024.0 280.4 L2032.4 280.4 L2039.3 279.4 L2045.1 277.7 L2050.1 275.5 L2054.8 273.1 L2059.5 270.6 L2064.0 268.0 L2068.0 265.0 L2072.0 261.9 L2076.2 259.0 L2081.2 256.5 L2086.9 254.5 L2093.1 252.7 L2099.8 251.2 L2106.7 249.9 L2113.8 248.9 L2121.8 248.2 L2130.9 247.9 L2139.8 247.8 L2147.6 247.8 L2153.0 247.8" fill="none" stroke="#ff0000" stroke-width="19.5" stroke-linejoin="round" stroke-linecap="round"/>
<path d="M327.5 473.6 L331.5 473.3 L335.5 473.1 L339.5 472.8 L343.5 472.5 L347.5 472.2 L351.5 471.9 L355.5 471.6 L359.5 471.3 L363.5 471.0 L367.5 470.7 L371.5 470.3 L375.5 470.0 L379.5 469.7 L383.5 469.3 L387.5 469.0 L391.5 468.7 L395.5 468.3 L399.5 468.0 L403.5 467.6 L407.5 467.3 L411.5 466.9 L415.5 466.5 L419.5 466.2 L423.5 465.8 L427.5 465.4 L431.5 465.0 L435.5 464.7 L439.5 464.3 L443.5 463.9 L447.5 463.5 L451.5 463.1 L455.5 462.7 L459.5 462.3 L463.5 461.9 L467.5 461.5 L471.5 461.0 L475.5 460.6 L479.5 460.2 L483.5 459.8 L487.5 459.4 L491.5 458.9 L495.5 458.5 L499.5 458.1 L503.5 457.6 L507.5 457.2 L511.5 456.7 L515.5 456.3 L519.5 455.8 L523.5 455.4 L527.5 454.9 L531.5 454.5 L535.5 454.0 L539.5 453.5 L543.5 453.1 L547.5 452.6 L551.5 452.1 L555.5 451.7 L559.5 451.2 L563.5 450.7 L567.5 450.2 L571.5 449.7 L575.5 449.2 L579.5 448.7 L583.5 448.2 L587.5 447.7 L591.5 447.2 L595.5 446.7 L599.5 446.2 L603.5 445.7 L607.5 445.2 L611.5 444.7 L615.5 444.2 L619.5 443.7 L623.5 443.1 L627.5 442.6 L631.5 442.1 L635.5 441.6 L639.5 441.0 L643.5 440.5 L647.5 440.0 L651.5 439.4 L655.5 438.9 L659.5 438.3 L663.5 437.8 L667.5 437.2 L671.5 436.7 L675.5 436.1 L679.5 435.6 L683.5 435.0 L687.5 434.5 L691.5 433.9 L695.5 433.3 L699.5 432.8 L703.5 432.2 L707.5 431.6 L711.5 431.0 L715.5 430.5 L719.5 429.9 L723.5 429.3 L727.5 428.7 L731.5 428.1 L735.5 427.5 L739.5 426.9 L743.5 426.3 L747.5 425.7 L751.5 425.1 L755.5 424.5 L759.5 423.9 L763.5 423.3 L767.5 422.7 L771.5 422.1 L775.5 421.5 L779.5 420.9 L783.5 420.3 L787.5 419.6 L791.5 419.0 L795.5 418.4 L799.5 417.8 L803.5 417.1 L807.5 416.5 L811.5 415.9 L815.5 415.2 L819.5 414.6 L823.5 414.0 L827.5 413.3 L831.5 412.7 L835.5 412.0 L839.5 411.4 L843.5 410.7 L847.5 410.1 L851.5 409.4 L855.5 408.8 L859.5 408.1 L863.5 407.5 L867.5 406.8 L871.5 406.1 L875.5 405.5 L879.5 404.8 L883.5 404.1 L887.5 403.4 L891.5 402.8 L895.5 402.1 L899.5 401.4 L903.5 400.7 L907.5 400.1 L911.5 399.4 L915.5 398.7 L919.5 398.0 L923.5 397.3 L927.5 396.6 L931.5 395.9 L935.5 395.2 L939.5 394.5 L943.5 393.8 L947.5 393.1 L951.5 392.4 L955.5 391.7 L959.5 391.0 L963.5 390.3 L967.5 389.6 L971.5 388.9 L975.5 388.2 L979.5 387.5 L983.5 386.8 L987.5 386.1 L991.5 385.3 L995.5 384.6 L999.5 383.9 L1003.5 383.2 L1007.5 382.5 L1011.5 381.7 L1015.5 381.0 L1019.5 380.3 L1023.5 379.6 L1027.5 378.8 L1031.5 378.1 L1035.5 377.4 L1039.5 376.6 L1043.5 375.9 L1047.5 375.2 L1051.5 374.4 L1055.5 373.7 L1059.5 373.0 L1063.5 372.2 L1067.5 371.5 L1071.5 370.7 L1075.5 370.0 L1079.5 369.3 L1083.5 368.5 L1087.5 367.8 L1091.5 367.0 L1095.5 366.3 L1099.5 365.6 L1103.5 364.8 L1107.5 364.1 L1111.5 363.3 L1115.5 362.6 L1119.5 361.8 L1123.5 361.1 L1127.5 360.3 L1131.5 359.6 L1135.5 358.8 L1139.5 358.1 L1143.5 357.3 L1147.5 356.6 L1151.5 355.9 L1155.5 355.1 L1159.5 354.4 L1163.5 353.6 L1167.5 352.9 L1171.5 352.1 L1175.5 351.4 L1179.5 350.6 L1183.5 349.9 L1187.5 349.1 L1191.5 348.4 L1195.5 347.6 L1199.5 346.9 L1203.5 346.2 L1207.5 345.4 L1211.5 344.7 L1215.5 343.9 L1219.5 343.2 L1223.5 342.4 L1227.5 341.7 L1231.5 341.0 L1235.5 340.2 L1239.5 339.5 L1243.5 338.8 L1247.5 338.0 L1251.5 337.3 L1255.5 336.6 L1259.5 335.8 L1263.5 335.1 L1267.5 334.4 L1271.5 333.6 L1275.5 332.9 L1279.5 332.2 L1283.5 331.5 L1287.5 330.7 L1291.5 330.0 L1295.5 329.3 L1299.5 328.6 L1303.5 327.9 L1307.5 327.2 L1311.5 326.5 L1315.5 325.7 L1319.5 325.0 L1323.5 324.3 L1327.5 323.6 L1331.5 322.9 L1335.5 322.2 L1339.5 321.5 L1343.5 320.8 L1347.5 320.2 L1351.5 319.5 L1355.5 318.8 L1359.5 318.1 L1363.5 317.4 L1367.5 316.7 L1371.5 316.1 L1375.5 315.4 L1379.5 314.7 L1383.5 314.0 L1387.5 313.4 L1391.5 312.7 L1395.5 312.1 L1399.5 311.4 L1403.5 310.8 L1407.5 310.1 L1411.5 309.5 L1415.5 308.8 L1419.5 308.2 L1423.5 307.5 L1427.5 306.9 L1431.5 306.3 L1435.5 305.7 L1439.5 305.0 L1443.5 304.4 L1447.5 303.8 L1451.5 303.2 L1455.5 302.6 L1459.5 302.0 L1463.5 301.4 L1467.5 300.8 L1471.5 300.2 L1475.5 299.6 L1479.5 299.0 L1483.5 298.5 L1487.5 297.9 L1491.5 297.3 L1495.5 296.8 L1499.5 296.2 L1503.5 295.6 L1507.5 295.1 L1511.5 294.5 L1515.5 294.0 L1519.5 293.5 L1523.5 292.9 L1527.5 292.4 L1531.5 291.9 L1535.5 291.4 L1539.5 290.8 L1543.5 290.3 L1547.5 289.8 L1551.5 289.3 L1555.5 288.8 L1559.5 288.3 L1563.5 287.9 L1567.5 287.4 L1571.5 286.9 L1575.5 286.4 L1579.5 286.0 L1583.5 285.5 L1587.5 285.1 L1591.5 284.6 L1595.5 284.2 L1599.5 283.7 L1603.5 283.3 L1607.5 282.9 L1611.5 282.5 L1615.5 282.0 L1619.5 281.6 L1623.5 281.2 L1627.5 280.8 L1631.5 280.4 L1635.5 280.0 L1639.5 279.7 L1643.5 279.3 L1647.5 278.9 L1651.5 278.6 L1655.5 278.2 L1659.5 277.8 L1663.5 277.5 L1667.5 277.2 L1671.5 276.8 L1675.5 276.5 L1679.5 276.2 L1683.5 275.8 L1687.5 275.5 L1691.5 275.2 L1695.5 274.9 L1699.5 274.6 L1703.5 274.3 L1707.5 274.1 L1711.5 273.8 L1715.5 273.5 L1719.5 273.2 L1723.5 273.0 L1727.5 272.7 L1731.5 272.5 L1735.5 272.2 L1739.5 272.0 L1743.5 271.8 L1747.5 271.6 L1751.5 271.3 L1755.5 271.1 L1759.5 270.9 L1763.5 270.7 L1767.5 270.5 L1771.5 270.3 L1775.5 270.1 L1779.5 270.0 L1783.5 269.8 L1787.5 269.6 L1791.5 269.5 L1795.5 269.3 L1799.5 269.2 L1803.5 269.0 L1807.5 268.9 L1811.5 268.7 L1815.5 268.6 L1819.5 268.5 L1823.5 268.4 L1827.5 268.3 L1831.5 268.1 L1835.5 268.0 L1839.5 267.9 L1843.5 267.9 L1847.5 267.8 L1851.5 267.7 L1855.5 267.6 L1859.5 267.5 L1863.5 267.5 L1867.5 267.4 L1871.5 267.3 L1875.5 267.3 L1879.5 267.2 L1883.5 267.2 L1887.5 267.1 L1891.5 267.1 L1895.5 267.1 L1899.5 267.0 L1903.5 267.0 L1907.5 267.0 L1911.5 267.0 L1915.5 267.0 L1919.5 266.9 L1923.5 266.9 L1927.5 266.9 L1931.5 266.9 L1935.5 266.9 L1939.5 266.9 L1943.5 266.9 L1947.5 267.0 L1951.5 267.0 L1955.5 267.0 L1959.5 267.0 L1963.5 267.0 L1967.5 267.0 L1971.5 267.1 L1975.5 267.1 L1979.5 267.1 L1983.5 267.1 L1987.5 267.2 L1991.5 267.2 L1995.5 267.2 L1999.5 267.3 L2003.5 267.3 L2007.5 267.3 L2011.5 267.4 L2015.5 267.4 L2019.5 267.4 L2023.5 267.5 L2027.5 267.5 L2031.5 267.5 L2035.5 267.5 L2039.5 267.6 L2043.5 267.6 L2047.5 267.6 L2051.5 267.7 L2055.5 267.7 L2059.5 267.7 L2063.5 267.7 L2067.5 267.7 L2071.5 267.8 L2075.5 267.8 L2079.5 267.8 L2083.5 267.8 L2087.5 267.8 L2091.5 267.8 L2095.5 267.8 L2099.5 267.8 L2103.5 267.7 L2107.5 267.7 L2111.5 267.7 L2115.5 267.7 L2119.5 267.6 L2123.5 267.6 L2127.5 267.5 L2131.5 267.5 L2135.5 267.4 L2139.5 267.3 L2143.5 267.3 L2147.5 267.2 L2151.5 267.1" fill="none" stroke="#ff0000" stroke-width="3.5" stroke-linejoin="round"/>
<rect x="329" y="68" width="3" height="1315" fill="#e8e8e8"/>
<rect x="329" y="68" width="1820" height="3" fill="#d8d8d8"/>
<rect x="329" y="1383" width="1820" height="3" fill="#d0d0d0"/>
<rect x="2152" y="65" width="3" height="1324" fill="#e0e0e0"/>
<rect x="326" y="65" width="3" height="1324" fill="#6a6a6a"/>
<rect x="326" y="65" width="1826" height="3" fill="#7f7f7f"/>
<rect x="2149" y="65" width="3" height="1324" fill="#646464"/>
<rect x="326" y="1386" width="1826" height="3" fill="#868686"/>
<g><rect x="329" y="211.7" width="26" height="3" fill="#454545"/><rect x="329" y="358.4" width="26" height="3" fill="#555555"/><rect x="329" y="505.2" width="26" height="3" fill="#454545"/><rect x="329" y="651.9" width="26" height="3" fill="#7a7a7a"/><rect x="329" y="798.6" width="26" height="3" fill="#999999"/><rect x="329" y="945.3" width="26" height="3" fill="#7a7a7a"/><rect x="329" y="1092.1" width="26" height="3" fill="#454545"/><rect x="329" y="1238.8" width="26" height="3" fill="#454545"/><rect x="329" y="138.4" width="12" height="3" fill="#454545"/><rect x="329" y="285.1" width="12" height="3" fill="#a8a8a8"/><rect x="329" y="431.8" width="12" height="3" fill="#a8a8a8"/><rect x="329" y="578.5" width="12" height="3" fill="#454545"/><rect x="329" y="725.2" width="12" height="3" fill="#454545"/><rect x="329" y="872.0" width="12" height="3" fill="#454545"/><rect x="329" y="1018.7" width="12" height="3" fill="#a8a8a8"/><rect x="329" y="1165.4" width="12" height="3" fill="#a8a8a8"/><rect x="329" y="1312.1" width="12" height="3" fill="#454545"/><rect x="629.8" y="1359" width="3" height="25" fill="#4a4a4a"/><rect x="933.5" y="1359" width="3" height="25" fill="#4a4a4a"/><rect x="1237.2" y="1359" width="3" height="25" fill="#4a4a4a"/><rect x="1541.0" y="1359" width="3" height="25" fill="#4a4a4a"/><rect x="1844.8" y="1359" width="3" height="25" fill="#4a4a4a"/><rect x="477.9" y="1373" width="3" height="11" fill="#4a4a4a"/><rect x="781.6" y="1373" width="3" height="11" fill="#4a4a4a"/><rect x="1085.4" y="1373" width="3" height="11" fill="#4a4a4a"/><rect x="1389.1" y="1373" width="3" height="11" fill="#4a4a4a"/><rect x="1692.9" y="1373" width="3" height="11" fill="#4a4a4a"/><rect x="1996.6" y="1373" width="3" height="11" fill="#4a4a4a"/></g>
<g font-family="Liberation Serif, Times New Roman, serif" font-size="88" fill="#000"><text x="299.5" y="93.0" text-anchor="end">0.90</text><text x="299.5" y="239.7" text-anchor="end">0.85</text><text x="299.5" y="386.4" text-anchor="end">0.80</text><text x="299.5" y="533.2" text-anchor="end">0.75</text><text x="299.5" y="679.9" text-anchor="end">0.70</text><text x="299.5" y="826.6" text-anchor="end">0.65</text><text x="299.5" y="973.3" text-anchor="end">0.60</text><text x="299.5" y="1120.1" text-anchor="end">0.55</text><text x="299.5" y="1266.8" text-anchor="end">0.50</text><text x="299.5" y="1413.5" text-anchor="end">0.45</text><text x="326.5" y="1479.5" text-anchor="middle">26</text><text x="630.2" y="1479.5" text-anchor="middle">28</text><text x="934.0" y="1479.5" text-anchor="middle">30</text><text x="1237.8" y="1479.5" text-anchor="middle">32</text><text x="1541.5" y="1479.5" text-anchor="middle">34</text><text x="1845.2" y="1479.5" text-anchor="middle">36</text><text x="2149.0" y="1479.5" text-anchor="middle">38</text></g>
<text font-family="Liberation Serif, Times New Roman, serif" font-size="110" x="849" y="1609" fill="#000" textLength="785" lengthAdjust="spacing">Frequency (GHz)</text>
<text font-family="Liberation Serif, Times New Roman, serif" font-size="107" transform="translate(109,992) rotate(-90)" fill="#000" textLength="533.5" lengthAdjust="spacing">Coefficients</text>
<g font-family="Liberation Serif, Times New Roman, serif" font-size="79" fill="#000"><text x="1423" y="554" textLength="224.8" lengthAdjust="spacing">Theory</text><text x="1621" y="648">Transmission</text><text x="1619" y="744">Reflection</text><text x="1424" y="839">Experiment</text><text x="1621" y="936">Transmission</text><text x="1619" y="1031">Reflection</text></g>
<rect x="1421.5" y="620.5" width="182" height="5" fill="#ff1010"/>
<rect x="1421.5" y="716" width="182" height="5" fill="#1010ff"/>
<rect x="1421.5" y="905.5" width="180" height="4.5" fill="#ff5050"/>
<circle cx="1512" cy="908" r="9" fill="#ff0000"/>
<rect x="1421.5" y="1001.5" width="180" height="4.5" fill="#7070ff"/>
<circle cx="1512" cy="1004" r="7.8" fill="none" stroke="#8080ff" stroke-width="2.6"/>
</svg></body></html>
